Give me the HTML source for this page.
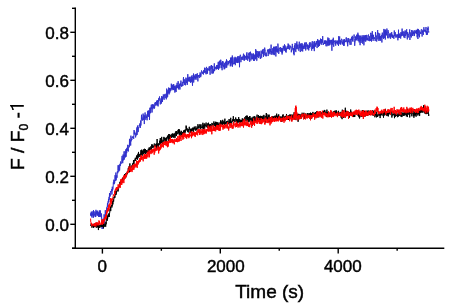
<!DOCTYPE html>
<html><head><meta charset="utf-8"><style>
html,body{margin:0;padding:0;background:#fff;}
svg{display:block;will-change:transform;}
text{font-family:"Liberation Sans",sans-serif;fill:#000;stroke:#000;stroke-width:0.45px;}
</style></head><body>
<svg width="449" height="308" viewBox="0 0 449 308">
<g fill="none" stroke-linejoin="round" stroke-width="1.0">
<polyline stroke="#3030cc" stroke-width="0.95" points="90.60,214.86 90.72,213.37 90.85,215.14 90.97,216.04 91.10,213.29 91.22,211.75 91.35,216.13 91.47,214.30 91.60,215.05 91.72,212.56 91.85,217.40 91.97,216.48 92.10,212.28 92.22,211.37 92.35,215.40 92.47,214.59 92.60,213.71 92.72,213.54 92.85,214.70 92.97,215.11 93.10,215.12 93.22,217.94 93.35,217.60 93.47,210.17 93.60,216.10 93.72,216.93 93.85,211.11 93.97,212.87 94.10,213.12 94.22,215.35 94.35,214.58 94.47,214.33 94.60,214.08 94.72,215.46 94.85,214.25 94.97,211.77 95.10,211.75 95.22,212.34 95.35,217.05 95.47,214.32 95.60,215.00 95.72,216.88 95.85,214.37 95.97,209.82 96.10,214.21 96.22,212.47 96.35,212.57 96.47,212.24 96.60,213.31 96.72,211.27 96.85,215.46 96.97,214.85 97.10,214.47 97.22,214.37 97.35,211.65 97.47,215.36 97.60,211.86 97.72,210.64 97.85,213.15 97.97,214.08 98.10,214.20 98.22,215.94 98.35,213.16 98.47,216.26 98.60,216.93 98.72,214.62 98.85,211.98 98.97,216.52 99.10,214.00 99.22,214.27 99.35,211.22 99.47,210.48 99.60,217.01 99.72,215.54 99.85,212.59 99.97,213.26 100.10,211.87 100.22,214.22 100.35,210.41 100.47,215.97 100.60,215.31 100.72,216.77 100.85,214.91 100.97,216.07 101.10,215.83 101.22,216.09 101.35,214.10 101.47,218.40 101.50,213.47 101.70,218.11 101.90,221.60 102.10,228.99 102.30,220.99 102.50,224.12 102.70,224.28 102.90,218.80 103.10,228.72 103.30,224.83 103.50,222.51 103.70,220.67 103.90,222.60 104.10,214.31 104.30,223.57 104.50,218.07 104.70,220.86 104.90,215.05 105.10,215.35 105.30,210.17 105.50,214.60 105.70,214.31 105.90,211.86 106.10,216.68 106.30,211.43 106.50,210.57 106.70,207.49 106.90,210.29 107.10,206.48 107.30,206.26 107.50,202.84 107.70,207.20 107.90,206.67 108.10,201.45 108.30,202.29 108.50,198.92 108.70,202.25 108.90,201.53 109.10,196.87 109.30,199.64 109.50,193.04 109.70,196.74 109.90,193.86 110.10,196.35 110.30,195.76 110.50,191.15 110.70,190.94 110.90,191.81 111.10,191.54 111.30,191.00 111.50,191.26 111.70,189.16 111.90,194.58 112.10,190.05 112.30,186.72 112.50,190.75 112.70,188.68 112.90,189.33 113.10,188.71 113.30,182.52 113.50,183.68 113.70,183.74 113.90,179.65 114.10,184.26 114.30,180.39 114.50,183.35 114.70,182.96 114.90,179.45 115.10,175.13 115.30,180.95 115.50,176.71 115.70,179.55 115.90,172.53 116.10,180.40 116.30,176.66 116.50,177.44 116.70,175.27 116.90,177.78 117.10,177.73 117.30,171.20 117.50,171.45 117.70,173.11 117.90,173.25 118.10,165.20 118.30,170.46 118.50,165.73 118.70,171.70 118.90,169.04 119.10,165.13 119.30,164.71 119.50,170.49 119.70,170.51 119.90,165.20 120.10,163.82 120.30,166.02 120.50,161.52 120.70,163.28 120.90,164.12 121.10,163.77 121.30,163.69 121.50,161.47 121.70,160.87 121.90,157.88 122.10,155.88 122.30,161.37 122.50,159.38 122.70,163.20 122.90,160.44 123.10,154.51 123.30,160.42 123.50,155.64 123.70,156.48 123.90,155.07 124.10,151.31 124.30,159.63 124.50,154.93 124.70,155.81 124.90,153.31 125.10,151.45 125.30,151.91 125.50,157.37 125.70,151.15 125.90,149.25 126.10,156.77 126.30,150.39 126.50,148.94 126.70,153.17 126.90,147.90 127.10,150.44 127.30,148.94 127.50,146.34 127.70,144.80 127.90,150.81 128.10,149.37 128.30,151.51 128.50,146.41 128.70,145.40 128.90,145.86 129.10,146.08 129.30,147.28 129.50,138.86 129.70,145.76 129.90,141.95 130.10,143.06 130.30,140.02 130.50,141.61 130.70,145.49 130.90,135.65 131.10,141.39 131.30,139.98 131.50,138.77 131.70,139.11 131.90,139.89 132.10,137.35 132.30,137.90 132.50,137.22 132.70,137.81 132.90,136.03 133.10,136.23 133.30,138.20 133.50,136.87 133.70,138.84 133.90,134.18 134.10,130.02 134.30,134.33 134.50,131.95 134.70,131.50 134.90,134.37 135.10,132.71 135.30,134.23 135.50,137.34 135.70,137.41 135.90,133.89 136.10,134.38 136.30,134.77 136.50,135.34 136.70,128.62 136.90,127.45 137.10,134.87 137.30,128.90 137.50,125.58 137.70,129.89 137.90,127.14 138.10,132.13 138.30,131.77 138.50,129.11 138.70,127.09 138.90,127.40 139.10,125.28 139.30,126.22 139.50,126.12 139.70,123.83 139.90,123.66 140.10,123.18 140.30,127.96 140.50,123.43 140.70,120.49 140.90,125.55 141.10,121.74 141.30,120.60 141.50,114.74 141.70,118.98 141.90,117.41 142.10,120.28 142.30,119.34 142.50,120.43 142.70,120.36 142.90,116.96 143.10,113.59 143.30,120.03 143.50,117.60 143.70,116.22 143.90,115.02 144.10,115.14 144.30,124.05 144.50,115.99 144.70,118.14 144.90,114.77 145.10,112.48 145.30,118.51 145.50,119.09 145.70,119.69 145.90,115.73 146.10,114.56 146.30,117.93 146.50,116.07 146.70,118.06 146.90,117.03 147.10,120.29 147.30,114.74 147.50,115.53 147.70,110.82 147.90,116.79 148.10,112.81 148.30,116.71 148.50,110.77 148.70,114.34 148.90,110.73 149.10,110.23 149.30,111.00 149.50,119.95 149.70,111.57 149.90,107.74 150.10,113.36 150.30,110.91 150.50,107.89 150.70,112.91 150.90,106.75 151.10,106.62 151.30,104.72 151.50,108.52 151.70,106.85 151.90,109.06 152.10,112.48 152.30,104.18 152.50,106.68 152.70,107.00 152.90,109.21 153.10,106.14 153.30,104.68 153.50,108.07 153.70,104.63 153.90,105.56 154.10,107.39 154.30,105.67 154.50,108.59 154.70,107.53 154.90,102.66 155.10,105.44 155.30,104.73 155.50,102.11 155.70,103.83 155.90,105.48 156.10,104.85 156.30,105.20 156.50,101.26 156.70,102.30 156.90,104.49 157.10,100.05 157.30,100.74 157.50,105.43 157.70,100.36 157.90,101.19 158.10,106.40 158.30,100.90 158.50,101.71 158.70,98.27 158.90,100.75 159.10,100.04 159.30,98.07 159.50,96.48 159.70,99.78 159.90,99.70 160.10,101.57 160.30,104.39 160.50,101.17 160.70,101.79 160.90,98.47 161.10,99.56 161.30,101.88 161.50,103.53 161.70,96.09 161.90,99.64 162.10,101.40 162.30,97.74 162.50,101.92 162.70,96.66 162.90,97.55 163.10,98.64 163.30,94.43 163.50,95.78 163.70,97.24 163.90,96.74 164.10,99.82 164.30,95.54 164.50,96.03 164.70,94.18 164.90,94.27 165.10,97.85 165.30,98.15 165.50,96.29 165.70,96.30 165.90,93.77 166.10,95.46 166.30,99.35 166.50,98.79 166.70,88.60 166.90,95.34 167.10,97.51 167.30,91.40 167.50,95.40 167.70,96.60 167.90,89.80 168.10,92.95 168.30,93.24 168.50,91.80 168.70,87.53 168.90,92.78 169.10,94.40 169.30,89.07 169.50,88.13 169.70,93.11 169.90,88.39 170.10,90.20 170.30,91.34 170.50,88.40 170.70,90.46 170.90,90.71 171.10,88.76 171.30,83.70 171.50,86.76 171.70,89.45 171.90,84.95 172.10,84.66 172.30,88.76 172.50,89.12 172.70,85.27 172.90,90.18 173.10,88.92 173.30,84.72 173.50,89.91 173.70,84.07 173.90,87.72 174.10,90.01 174.30,88.53 174.50,86.08 174.70,86.16 174.90,92.57 175.10,85.66 175.30,90.71 175.50,87.63 175.70,86.91 175.90,87.07 176.10,92.03 176.30,84.86 176.50,88.06 176.70,87.14 176.90,88.33 177.10,82.81 177.30,87.54 177.50,87.19 177.70,85.52 177.90,87.91 178.10,81.16 178.30,81.98 178.50,84.40 178.70,89.44 178.90,85.22 179.10,85.13 179.30,88.14 179.50,85.53 179.70,83.68 179.90,89.56 180.10,86.48 180.30,85.58 180.50,83.30 180.70,85.58 180.90,80.55 181.10,84.03 181.30,84.81 181.50,86.44 181.70,86.86 181.90,84.56 182.10,86.12 182.30,81.88 182.50,82.59 182.70,83.68 182.90,85.89 183.10,84.40 183.30,79.07 183.50,77.11 183.70,82.88 183.90,79.16 184.10,79.35 184.30,83.12 184.50,82.05 184.70,84.95 184.90,79.56 185.10,79.51 185.30,82.86 185.50,85.30 185.70,84.95 185.90,77.63 186.10,79.53 186.30,82.70 186.50,83.10 186.70,79.81 186.90,78.33 187.10,78.82 187.30,84.87 187.50,81.90 187.70,74.14 187.90,74.44 188.10,81.63 188.30,77.72 188.50,81.01 188.70,79.01 188.90,77.74 189.10,80.64 189.30,76.88 189.50,81.56 189.70,77.19 189.90,76.94 190.10,76.76 190.30,79.79 190.50,82.69 190.70,79.30 190.90,81.20 191.10,76.83 191.30,82.24 191.50,76.53 191.70,75.60 191.90,80.21 192.10,80.16 192.30,81.94 192.50,85.74 192.70,76.86 192.90,80.54 193.10,75.19 193.30,78.31 193.50,73.56 193.70,82.51 193.90,78.43 194.10,77.71 194.30,75.50 194.50,77.65 194.70,76.69 194.90,79.60 195.10,76.39 195.30,74.22 195.50,78.45 195.70,77.30 195.90,76.53 196.10,79.69 196.30,74.22 196.50,75.44 196.70,77.50 196.90,77.13 197.10,74.60 197.30,73.29 197.50,78.41 197.70,78.46 197.90,81.39 198.10,75.32 198.30,76.53 198.50,75.14 198.70,76.41 198.90,77.04 199.10,77.38 199.30,78.05 199.50,76.10 199.70,74.76 199.90,76.49 200.10,72.41 200.30,75.15 200.50,73.53 200.70,77.20 200.90,75.80 201.10,75.82 201.30,72.97 201.50,70.41 201.70,70.86 201.90,71.26 202.10,72.79 202.30,71.92 202.50,72.09 202.70,73.94 202.90,74.07 203.10,73.21 203.30,71.82 203.50,74.50 203.70,70.31 203.90,72.17 204.10,70.55 204.30,72.78 204.50,67.75 204.70,72.27 204.90,68.98 205.10,67.90 205.30,70.49 205.50,72.38 205.70,70.98 205.90,74.16 206.10,74.27 206.30,68.76 206.50,66.88 206.70,68.19 206.90,73.73 207.10,68.88 207.30,70.65 207.50,73.55 207.70,68.12 207.90,68.74 208.10,70.07 208.30,69.67 208.50,70.39 208.70,68.30 208.90,67.40 209.10,67.62 209.30,66.25 209.50,70.80 209.70,69.17 209.90,67.71 210.10,74.76 210.30,66.31 210.50,66.12 210.70,65.79 210.90,66.42 211.10,69.45 211.30,68.65 211.50,65.05 211.70,69.40 211.90,73.50 212.10,70.26 212.30,70.06 212.50,68.95 212.70,65.92 212.90,73.59 213.10,69.27 213.30,73.10 213.50,70.07 213.70,71.31 213.90,68.71 214.10,68.43 214.30,63.34 214.50,71.14 214.70,70.63 214.90,66.73 215.10,67.91 215.30,67.97 215.50,67.32 215.70,67.14 215.90,69.29 216.10,66.69 216.30,68.42 216.50,69.32 216.70,65.05 216.90,68.42 217.10,67.64 217.30,68.56 217.50,66.82 217.70,65.07 217.90,69.09 218.10,62.86 218.30,61.75 218.50,69.82 218.70,67.10 218.90,62.65 219.10,62.60 219.30,64.92 219.50,61.36 219.70,68.35 219.90,60.57 220.10,62.43 220.30,63.76 220.50,64.85 220.70,59.73 220.90,59.86 221.10,66.36 221.30,68.00 221.50,63.98 221.70,62.49 221.90,67.97 222.10,70.24 222.30,66.08 222.50,61.16 222.70,63.73 222.90,65.38 223.10,61.44 223.30,66.07 223.50,65.05 223.70,67.17 223.90,66.10 224.10,69.25 224.30,69.04 224.50,63.26 224.70,69.13 224.90,66.48 225.10,64.75 225.30,62.08 225.50,61.73 225.70,65.03 225.90,67.83 226.10,62.75 226.30,61.95 226.50,59.35 226.70,67.65 226.90,60.46 227.10,62.41 227.30,63.14 227.50,63.66 227.70,63.74 227.90,65.36 228.10,61.19 228.30,62.85 228.50,64.08 228.70,62.76 228.90,61.15 229.10,63.22 229.30,62.84 229.50,60.32 229.70,61.24 229.90,61.31 230.10,61.50 230.30,66.32 230.50,57.65 230.70,65.20 230.90,61.67 231.10,63.53 231.30,61.32 231.50,57.50 231.70,62.41 231.90,61.08 232.10,66.34 232.30,55.51 232.50,66.56 232.70,57.00 232.90,57.79 233.10,59.96 233.30,62.25 233.50,64.15 233.70,64.26 233.90,62.44 234.10,61.76 234.30,58.17 234.50,63.92 234.70,61.28 234.90,56.90 235.10,56.87 235.30,65.20 235.50,58.04 235.70,60.69 235.90,57.42 236.10,62.42 236.30,58.60 236.50,61.32 236.70,61.07 236.90,62.82 237.10,59.26 237.30,57.13 237.50,63.04 237.70,56.29 237.90,60.20 238.10,59.94 238.30,58.97 238.50,58.67 238.70,62.70 238.90,56.10 239.10,59.31 239.30,56.62 239.50,67.23 239.70,59.64 239.90,59.87 240.10,54.80 240.30,54.86 240.50,54.92 240.70,56.85 240.90,62.18 241.10,60.39 241.30,57.93 241.50,56.94 241.70,56.86 241.90,59.60 242.10,57.51 242.30,59.81 242.50,58.34 242.70,56.52 242.90,57.75 243.10,56.52 243.30,54.83 243.50,53.70 243.70,57.07 243.90,60.28 244.10,56.04 244.30,60.73 244.50,54.84 244.70,55.63 244.90,59.99 245.10,56.46 245.30,56.13 245.50,57.67 245.70,56.76 245.90,56.43 246.10,57.76 246.30,59.36 246.50,53.71 246.70,59.47 246.90,52.30 247.10,57.03 247.30,55.73 247.50,58.15 247.70,60.69 247.90,58.92 248.10,57.14 248.30,56.68 248.50,58.51 248.70,53.74 248.90,53.11 249.10,54.98 249.30,52.30 249.50,59.00 249.70,61.77 249.90,56.79 250.10,53.81 250.30,54.70 250.50,51.73 250.70,54.83 250.90,60.53 251.10,59.07 251.30,58.18 251.50,58.62 251.70,53.54 251.90,54.92 252.10,58.88 252.30,57.88 252.50,58.69 252.70,55.74 252.90,53.70 253.10,59.67 253.30,56.20 253.50,53.57 253.70,60.88 253.90,54.71 254.10,55.82 254.30,60.88 254.50,58.12 254.70,55.34 254.90,56.35 255.10,54.33 255.30,55.41 255.50,59.25 255.70,49.12 255.90,54.14 256.10,57.70 256.30,50.68 256.50,55.00 256.70,60.72 256.90,60.68 257.10,54.16 257.30,55.16 257.50,57.02 257.70,51.17 257.90,51.95 258.10,51.50 258.30,55.94 258.50,51.82 258.70,58.06 258.90,53.48 259.10,52.96 259.30,56.38 259.50,51.39 259.70,54.19 259.90,54.80 260.10,54.38 260.30,58.79 260.50,57.08 260.70,58.53 260.90,54.18 261.10,50.61 261.30,53.28 261.50,56.74 261.70,57.63 261.90,53.46 262.10,51.41 262.30,52.96 262.50,49.76 262.70,53.74 262.90,51.03 263.10,49.68 263.30,48.94 263.50,56.96 263.70,51.91 263.90,54.97 264.10,55.31 264.30,54.89 264.50,53.51 264.70,47.62 264.90,50.37 265.10,49.86 265.30,55.86 265.50,55.62 265.70,54.55 265.90,52.77 266.10,56.46 266.30,54.96 266.50,55.85 266.70,52.78 266.90,52.67 267.10,51.95 267.30,51.89 267.50,49.62 267.70,50.72 267.90,50.20 268.10,56.06 268.30,54.86 268.50,54.26 268.70,49.19 268.90,50.75 269.10,53.45 269.30,50.83 269.50,48.69 269.70,51.83 269.90,53.01 270.10,54.36 270.30,52.17 270.50,49.05 270.70,52.05 270.90,51.46 271.10,44.63 271.30,53.43 271.50,52.13 271.70,51.05 271.90,54.96 272.10,51.88 272.30,53.45 272.50,52.55 272.70,48.28 272.90,50.37 273.10,50.96 273.30,50.62 273.50,54.53 273.70,46.73 273.90,51.19 274.10,47.11 274.30,55.17 274.50,53.03 274.70,53.44 274.90,46.66 275.10,51.14 275.30,51.42 275.50,46.64 275.70,54.21 275.90,56.46 276.10,48.83 276.30,51.30 276.50,46.35 276.70,48.84 276.90,51.88 277.10,50.15 277.30,52.57 277.50,48.67 277.70,51.68 277.90,43.61 278.10,46.05 278.30,48.69 278.50,48.62 278.70,53.93 278.90,52.85 279.10,49.46 279.30,47.95 279.50,47.72 279.70,49.09 279.90,49.46 280.10,51.09 280.30,48.79 280.50,47.13 280.70,49.93 280.90,51.87 281.10,49.95 281.30,51.14 281.50,47.91 281.70,52.41 281.90,50.87 282.10,54.53 282.30,49.73 282.50,52.95 282.70,48.13 282.90,51.19 283.10,47.92 283.30,45.80 283.50,48.09 283.70,47.17 283.90,49.52 284.10,49.71 284.30,48.10 284.50,44.36 284.70,50.73 284.90,50.95 285.10,45.48 285.30,47.57 285.50,51.81 285.70,48.49 285.90,47.49 286.10,52.59 286.30,48.33 286.50,50.12 286.70,49.35 286.90,47.92 287.10,46.84 287.30,46.07 287.50,48.92 287.70,47.85 287.90,47.93 288.10,43.52 288.30,46.20 288.50,44.56 288.70,49.10 288.90,45.12 289.10,44.81 289.30,45.28 289.50,49.64 289.70,49.16 289.90,48.31 290.10,48.26 290.30,46.28 290.50,45.74 290.70,46.98 290.90,47.38 291.10,46.81 291.30,52.28 291.50,49.94 291.70,50.94 291.90,48.42 292.10,47.51 292.30,43.88 292.50,45.58 292.70,49.52 292.90,49.69 293.10,49.32 293.30,48.32 293.50,53.84 293.70,48.37 293.90,49.09 294.10,55.26 294.30,45.94 294.50,45.36 294.70,48.72 294.90,50.21 295.10,43.07 295.30,49.83 295.50,49.90 295.70,51.61 295.90,52.08 296.10,44.01 296.30,44.92 296.50,43.64 296.70,48.81 296.90,41.47 297.10,49.24 297.30,48.67 297.50,45.41 297.70,46.20 297.90,44.61 298.10,44.50 298.30,46.91 298.50,49.32 298.70,50.69 298.90,50.60 299.10,44.20 299.30,41.69 299.50,47.80 299.70,48.16 299.90,44.70 300.10,49.57 300.30,52.04 300.50,44.12 300.70,45.15 300.90,45.67 301.10,43.11 301.30,48.24 301.50,44.79 301.70,51.06 301.90,50.86 302.10,43.50 302.30,43.44 302.50,45.80 302.70,51.47 302.90,45.58 303.10,49.02 303.30,47.19 303.50,46.08 303.70,48.44 303.90,48.79 304.10,44.37 304.30,46.73 304.50,44.80 304.70,42.94 304.90,48.79 305.10,42.24 305.30,45.27 305.50,49.74 305.70,50.47 305.90,44.70 306.10,46.74 306.30,44.26 306.50,42.48 306.70,44.41 306.90,44.59 307.10,49.39 307.30,47.17 307.50,44.56 307.70,46.75 307.90,47.17 308.10,49.01 308.30,45.25 308.50,47.36 308.70,50.43 308.90,48.73 309.10,47.46 309.30,43.34 309.50,47.92 309.70,43.22 309.90,42.10 310.10,46.37 310.30,46.69 310.50,46.64 310.70,45.28 310.90,42.61 311.10,45.97 311.30,48.74 311.50,49.23 311.70,50.65 311.90,44.55 312.10,44.94 312.30,41.16 312.50,48.59 312.70,45.57 312.90,48.93 313.10,44.97 313.30,44.62 313.50,47.96 313.70,45.74 313.90,41.61 314.10,48.64 314.30,51.11 314.50,44.36 314.70,41.22 314.90,46.91 315.10,43.74 315.30,46.43 315.50,43.79 315.70,44.17 315.90,43.02 316.10,43.61 316.30,41.77 316.50,44.32 316.70,40.95 316.90,45.45 317.10,48.05 317.30,43.82 317.50,42.24 317.70,39.07 317.90,44.45 318.10,46.30 318.30,40.68 318.50,46.86 318.70,41.70 318.90,45.64 319.10,40.11 319.30,43.38 319.50,46.02 319.70,42.32 319.90,41.90 320.10,40.84 320.30,43.52 320.50,38.60 320.70,40.62 320.90,39.77 321.10,41.27 321.30,44.75 321.50,39.54 321.70,39.11 321.90,42.78 322.10,41.55 322.30,39.94 322.50,42.54 322.70,36.12 322.90,42.29 323.10,44.74 323.30,44.00 323.50,44.59 323.70,42.89 323.90,42.77 324.10,43.96 324.30,40.44 324.50,43.61 324.70,40.85 324.90,44.01 325.10,42.67 325.30,43.72 325.50,40.96 325.70,40.32 325.90,45.29 326.10,46.28 326.30,40.87 326.50,40.89 326.70,43.28 326.90,43.47 327.10,46.19 327.30,41.81 327.50,44.68 327.70,40.17 327.90,37.46 328.10,42.69 328.30,39.12 328.50,43.82 328.70,45.68 328.90,38.08 329.10,41.87 329.30,44.67 329.50,40.15 329.70,45.27 329.90,42.13 330.10,42.76 330.30,39.90 330.50,40.50 330.70,43.52 330.90,44.45 331.10,44.54 331.30,42.84 331.50,39.89 331.70,43.88 331.90,50.75 332.10,42.32 332.30,43.22 332.50,44.49 332.70,39.74 332.90,39.23 333.10,42.89 333.30,37.72 333.50,43.33 333.70,46.71 333.90,43.82 334.10,40.96 334.30,41.31 334.50,41.83 334.70,40.61 334.90,40.52 335.10,43.85 335.30,43.47 335.50,41.83 335.70,45.63 335.90,40.33 336.10,42.45 336.30,41.60 336.50,42.79 336.70,42.01 336.90,43.64 337.10,43.58 337.30,40.52 337.50,44.31 337.70,42.84 337.90,41.30 338.10,44.38 338.30,44.10 338.50,45.94 338.70,36.19 338.90,42.47 339.10,41.86 339.30,39.47 339.50,38.05 339.70,36.50 339.90,43.91 340.10,39.96 340.30,44.64 340.50,41.25 340.70,44.13 340.90,40.84 341.10,42.55 341.30,40.38 341.50,38.78 341.70,40.19 341.90,40.58 342.10,41.53 342.30,44.53 342.50,42.15 342.70,43.54 342.90,42.15 343.10,39.47 343.30,44.18 343.50,40.53 343.70,45.84 343.90,40.83 344.10,45.81 344.30,39.04 344.50,42.91 344.70,41.18 344.90,40.36 345.10,40.57 345.30,40.82 345.50,42.09 345.70,40.57 345.90,39.55 346.10,37.87 346.30,37.33 346.50,41.62 346.70,41.93 346.90,41.68 347.10,38.25 347.30,43.36 347.50,41.18 347.70,46.27 347.90,42.39 348.10,40.51 348.30,42.18 348.50,38.05 348.70,38.40 348.90,40.45 349.10,40.26 349.30,39.62 349.50,40.43 349.70,43.06 349.90,43.10 350.10,44.89 350.30,38.78 350.50,40.23 350.70,40.35 350.90,42.16 351.10,44.76 351.30,39.18 351.50,39.57 351.70,36.99 351.90,39.92 352.10,38.08 352.30,35.84 352.50,40.81 352.70,38.32 352.90,41.69 353.10,38.85 353.30,37.73 353.50,37.69 353.70,38.06 353.90,37.65 354.10,34.54 354.30,38.68 354.50,40.74 354.70,45.78 354.90,43.04 355.10,42.15 355.30,39.61 355.50,36.54 355.70,40.40 355.90,37.11 356.10,36.51 356.30,40.30 356.50,38.74 356.70,34.95 356.90,36.25 357.10,34.52 357.30,39.42 357.50,35.96 357.70,36.81 357.90,32.70 358.10,41.07 358.30,34.64 358.50,37.67 358.70,40.97 358.90,41.45 359.10,42.36 359.30,42.17 359.50,39.10 359.70,35.56 359.90,41.42 360.10,45.19 360.30,35.70 360.50,37.87 360.70,40.78 360.90,39.47 361.10,42.99 361.30,38.48 361.50,37.51 361.70,39.17 361.90,35.54 362.10,36.51 362.30,41.60 362.50,37.24 362.70,43.79 362.90,40.83 363.10,35.11 363.30,41.20 363.50,39.12 363.70,36.72 363.90,45.32 364.10,40.80 364.30,35.40 364.50,39.29 364.70,38.88 364.90,41.19 365.10,37.29 365.30,35.22 365.50,39.90 365.70,41.65 365.90,35.19 366.10,39.14 366.30,39.76 366.50,40.32 366.70,34.88 366.90,35.58 367.10,39.43 367.30,37.93 367.50,39.84 367.70,37.97 367.90,40.49 368.10,35.16 368.30,35.22 368.50,34.55 368.70,37.46 368.90,40.93 369.10,39.28 369.30,39.70 369.50,36.36 369.70,41.20 369.90,40.99 370.10,39.02 370.30,40.92 370.50,34.63 370.70,32.80 370.90,34.39 371.10,33.44 371.30,36.49 371.50,41.56 371.70,35.08 371.90,38.93 372.10,33.05 372.30,31.16 372.50,38.85 372.70,36.96 372.90,34.55 373.10,40.86 373.30,34.99 373.50,37.43 373.70,37.34 373.90,38.88 374.10,37.11 374.30,38.85 374.50,38.50 374.70,37.89 374.90,37.82 375.10,40.84 375.30,41.07 375.50,32.14 375.70,35.02 375.90,36.98 376.10,35.81 376.30,35.58 376.50,39.92 376.70,41.56 376.90,39.69 377.10,36.28 377.30,34.61 377.50,31.36 377.70,30.11 377.90,39.40 378.10,35.68 378.30,32.76 378.50,33.35 378.70,34.31 378.90,40.99 379.10,36.33 379.30,36.90 379.50,39.13 379.70,33.45 379.90,38.71 380.10,40.70 380.30,36.75 380.50,36.07 380.70,40.52 380.90,37.05 381.10,38.20 381.30,36.10 381.50,34.88 381.70,37.38 381.90,42.49 382.10,35.48 382.30,32.62 382.50,34.96 382.70,35.95 382.90,37.71 383.10,34.50 383.30,35.52 383.50,38.98 383.70,38.17 383.90,28.95 384.10,34.70 384.30,30.97 384.50,31.13 384.70,37.94 384.90,29.61 385.10,33.00 385.30,39.52 385.50,29.76 385.70,34.36 385.90,30.18 386.10,31.72 386.30,34.91 386.50,31.80 386.70,35.45 386.90,28.52 387.10,30.77 387.30,35.36 387.50,35.39 387.70,38.24 387.90,33.96 388.10,30.16 388.30,32.93 388.50,32.21 388.70,33.55 388.90,38.26 389.10,35.96 389.30,33.59 389.50,34.26 389.70,35.95 389.90,36.86 390.10,33.99 390.30,34.42 390.50,38.65 390.70,38.74 390.90,32.90 391.10,35.18 391.30,34.48 391.50,36.57 391.70,32.14 391.90,35.03 392.10,34.64 392.30,37.73 392.50,34.87 392.70,37.51 392.90,35.74 393.10,37.81 393.30,36.03 393.50,35.58 393.70,37.66 393.90,38.84 394.10,34.98 394.30,30.51 394.50,36.10 394.70,36.20 394.90,34.12 395.10,32.00 395.30,32.36 395.50,35.14 395.70,36.71 395.90,37.57 396.10,34.56 396.30,37.26 396.50,36.90 396.70,36.32 396.90,36.18 397.10,34.39 397.30,36.15 397.50,35.55 397.70,35.07 397.90,40.31 398.10,34.15 398.30,37.97 398.50,29.69 398.70,37.86 398.90,36.46 399.10,33.53 399.30,34.01 399.50,37.79 399.70,35.90 399.90,34.23 400.10,33.79 400.30,34.42 400.50,35.61 400.70,38.59 400.90,32.17 401.10,34.35 401.30,36.30 401.50,35.94 401.70,32.58 401.90,35.46 402.10,28.60 402.30,35.63 402.50,34.07 402.70,31.82 402.90,33.61 403.10,31.31 403.30,35.68 403.50,34.33 403.70,34.02 403.90,37.46 404.10,31.72 404.30,33.30 404.50,35.93 404.70,36.81 404.90,38.09 405.10,30.41 405.30,35.34 405.50,34.67 405.70,36.14 405.90,33.64 406.10,30.76 406.30,34.35 406.50,30.37 406.70,29.25 406.90,33.24 407.10,36.05 407.30,39.42 407.50,32.25 407.70,33.17 407.90,34.00 408.10,35.08 408.30,37.50 408.50,35.75 408.70,33.92 408.90,34.48 409.10,33.59 409.30,32.22 409.50,33.36 409.70,29.39 409.90,39.97 410.10,35.56 410.30,35.21 410.50,36.14 410.70,32.43 410.90,33.55 411.10,34.77 411.30,37.45 411.50,35.80 411.70,30.02 411.90,32.12 412.10,32.26 412.30,32.32 412.50,35.88 412.70,32.33 412.90,30.41 413.10,32.33 413.30,34.15 413.50,31.66 413.70,32.74 413.90,32.08 414.10,36.06 414.30,33.42 414.50,35.60 414.70,30.71 414.90,30.12 415.10,32.77 415.30,31.57 415.50,32.40 415.70,31.61 415.90,33.43 416.10,33.03 416.30,29.82 416.50,33.77 416.70,30.62 416.90,34.55 417.10,37.30 417.30,36.43 417.50,32.39 417.70,28.83 417.90,39.00 418.10,34.98 418.30,31.73 418.50,29.22 418.70,33.39 418.90,35.53 419.10,34.24 419.30,35.07 419.50,37.29 419.70,30.40 419.90,31.56 420.10,32.85 420.30,33.88 420.50,32.24 420.70,33.03 420.90,33.12 421.10,33.90 421.30,29.20 421.50,29.38 421.70,29.77 421.90,29.57 422.10,36.54 422.30,30.67 422.50,32.85 422.70,30.59 422.90,30.98 423.10,32.53 423.30,34.91 423.50,32.85 423.70,29.68 423.90,27.18 424.10,31.82 424.30,29.62 424.50,30.18 424.70,31.09 424.90,30.22 425.10,30.80 425.30,30.19 425.50,31.13 425.70,32.41 425.90,26.99 426.10,27.22 426.30,34.86 426.50,34.55 426.70,31.14 426.90,35.02 427.10,34.20 427.30,32.80 427.50,34.41 427.70,28.01 427.90,30.10 428.10,26.63 428.30,30.02 428.50,30.43 428.70,32.49 428.90,31.69"/>
<polyline stroke="#000" points="90.60,225.80 90.77,224.80 90.93,225.43 91.10,224.34 91.27,223.33 91.43,225.11 91.60,225.02 91.77,226.82 91.93,227.65 92.10,225.81 92.27,226.36 92.43,225.03 92.60,224.69 92.77,225.46 92.93,225.47 93.10,226.16 93.27,225.94 93.43,227.80 93.60,225.54 93.77,223.82 93.93,225.94 94.10,225.01 94.27,226.05 94.43,227.15 94.60,225.04 94.77,225.73 94.93,226.45 95.10,224.70 95.27,226.11 95.43,226.52 95.60,226.86 95.77,227.22 95.93,226.59 96.10,226.41 96.27,224.29 96.43,222.77 96.60,224.84 96.77,227.73 96.93,226.18 97.10,223.36 97.27,225.58 97.43,226.54 97.60,223.92 97.77,226.86 97.93,224.84 98.10,227.50 98.27,226.33 98.43,230.05 98.60,224.78 98.77,226.75 98.93,224.66 99.10,227.83 99.27,226.61 99.43,227.55 99.60,226.55 99.77,224.98 99.93,225.56 100.10,224.79 100.27,224.95 100.43,226.29 100.60,227.31 100.77,226.97 100.93,226.47 101.10,225.10 101.27,226.31 101.43,224.61 101.50,225.95 101.70,227.05 101.90,225.18 102.10,224.66 102.30,224.72 102.50,226.61 102.70,224.96 102.90,222.98 103.10,224.81 103.30,223.66 103.50,228.28 103.70,225.62 103.90,222.97 104.10,226.08 104.30,226.79 104.50,225.97 104.70,224.35 104.90,224.90 105.10,224.70 105.30,225.53 105.50,223.86 105.70,226.74 105.90,221.74 106.10,224.32 106.30,221.09 106.50,217.50 106.70,217.97 106.90,216.31 107.10,215.98 107.30,220.69 107.50,216.82 107.70,218.55 107.90,215.33 108.10,216.36 108.30,213.94 108.50,216.82 108.70,214.25 108.90,213.33 109.10,213.27 109.30,216.88 109.50,213.18 109.70,213.28 109.90,208.95 110.10,209.40 110.30,210.49 110.50,206.02 110.70,211.14 110.90,208.61 111.10,207.47 111.30,206.53 111.50,205.83 111.70,204.72 111.90,207.50 112.10,205.62 112.30,206.00 112.50,202.62 112.70,200.99 112.90,204.40 113.10,199.21 113.30,199.73 113.50,201.54 113.70,201.66 113.90,196.83 114.10,198.17 114.30,198.18 114.50,197.38 114.70,195.56 114.90,197.79 115.10,195.11 115.30,195.10 115.50,190.98 115.70,194.29 115.90,190.48 116.10,194.70 116.30,193.80 116.50,191.48 116.70,192.17 116.90,191.56 117.10,190.60 117.30,191.01 117.50,189.65 117.70,188.53 117.90,187.49 118.10,191.45 118.30,188.34 118.50,187.50 118.70,188.37 118.90,185.94 119.10,185.51 119.30,186.95 119.50,187.17 119.70,186.11 119.90,181.84 120.10,184.19 120.30,183.66 120.50,184.13 120.70,181.36 120.90,180.71 121.10,182.02 121.30,180.30 121.50,179.65 121.70,181.10 121.90,182.56 122.10,180.83 122.30,182.27 122.50,178.19 122.70,180.86 122.90,179.23 123.10,177.34 123.30,177.82 123.50,176.71 123.70,177.52 123.90,176.25 124.10,179.50 124.30,176.31 124.50,174.10 124.70,175.98 124.90,176.71 125.10,175.16 125.30,176.95 125.50,173.50 125.70,173.30 125.90,177.41 126.10,174.22 126.30,174.87 126.50,174.47 126.70,174.30 126.90,173.03 127.10,172.28 127.30,174.22 127.50,171.08 127.70,171.83 127.90,172.50 128.10,170.25 128.30,167.90 128.50,171.10 128.70,171.88 128.90,170.10 129.10,166.37 129.30,170.18 129.50,172.24 129.70,165.74 129.90,163.41 130.10,167.52 130.30,167.83 130.50,168.83 130.70,168.65 130.90,167.12 131.10,167.67 131.30,167.05 131.50,166.42 131.70,165.84 131.90,165.41 132.10,166.65 132.30,165.85 132.50,164.10 132.70,166.50 132.90,163.00 133.10,163.59 133.30,163.94 133.50,160.06 133.70,162.44 133.90,164.31 134.10,163.93 134.30,160.08 134.50,160.40 134.70,159.65 134.90,160.80 135.10,160.77 135.30,157.75 135.50,160.78 135.70,160.03 135.90,159.46 136.10,158.11 136.30,158.67 136.50,155.58 136.70,158.85 136.90,158.55 137.10,157.75 137.30,155.62 137.50,159.71 137.70,159.24 137.90,153.76 138.10,157.57 138.30,156.90 138.50,151.93 138.70,157.14 138.90,157.17 139.10,157.08 139.30,155.89 139.50,154.25 139.70,154.28 139.90,155.86 140.10,156.81 140.30,153.69 140.50,153.86 140.70,155.38 140.90,150.22 141.10,154.62 141.30,153.29 141.50,149.72 141.70,154.81 141.90,151.76 142.10,154.67 142.30,155.61 142.50,150.94 142.70,150.94 142.90,152.93 143.10,149.79 143.30,154.03 143.50,152.96 143.70,154.23 143.90,149.16 144.10,152.57 144.30,152.88 144.50,148.76 144.70,153.31 144.90,149.18 145.10,151.77 145.30,149.02 145.50,152.58 145.70,154.08 145.90,151.11 146.10,150.98 146.30,153.13 146.50,150.00 146.70,150.82 146.90,152.12 147.10,151.37 147.30,153.33 147.50,152.62 147.70,153.83 147.90,150.36 148.10,152.28 148.30,148.79 148.50,151.71 148.70,153.09 148.90,154.00 149.10,147.53 149.30,149.26 149.50,150.64 149.70,147.65 149.90,149.95 150.10,149.73 150.30,147.70 150.50,147.39 150.70,146.49 150.90,148.42 151.10,149.89 151.30,147.97 151.50,152.13 151.70,144.45 151.90,145.85 152.10,147.89 152.30,144.53 152.50,147.00 152.70,147.69 152.90,146.44 153.10,145.60 153.30,147.54 153.50,146.52 153.70,146.96 153.90,146.56 154.10,144.33 154.30,143.50 154.50,144.71 154.70,145.63 154.90,144.93 155.10,146.89 155.30,145.63 155.50,146.86 155.70,145.34 155.90,143.84 156.10,146.58 156.30,145.95 156.50,143.57 156.70,144.31 156.90,149.94 157.10,139.00 157.30,146.93 157.50,144.98 157.70,144.68 157.90,144.19 158.10,143.70 158.30,148.67 158.50,143.55 158.70,143.63 158.90,145.40 159.10,144.45 159.30,143.24 159.50,142.81 159.70,140.71 159.90,144.74 160.10,140.69 160.30,138.00 160.50,143.91 160.70,143.14 160.90,142.17 161.10,140.41 161.30,143.25 161.50,139.01 161.70,136.87 161.90,140.90 162.10,141.91 162.30,141.47 162.50,143.98 162.70,141.69 162.90,139.74 163.10,139.76 163.30,141.67 163.50,139.95 163.70,139.81 163.90,136.89 164.10,139.49 164.30,137.72 164.50,140.45 164.70,140.27 164.90,141.29 165.10,143.19 165.30,139.64 165.50,142.49 165.70,137.83 165.90,140.06 166.10,141.39 166.30,143.08 166.50,137.49 166.70,138.86 166.90,139.43 167.10,138.83 167.30,137.13 167.50,135.73 167.70,136.27 167.90,138.14 168.10,135.68 168.30,141.08 168.50,139.91 168.70,134.10 168.90,136.45 169.10,139.53 169.30,139.59 169.50,138.83 169.70,134.11 169.90,135.88 170.10,138.71 170.30,136.48 170.50,135.37 170.70,137.00 170.90,137.77 171.10,136.18 171.30,136.30 171.50,137.73 171.70,134.74 171.90,134.08 172.10,137.06 172.30,133.51 172.50,136.54 172.70,134.33 172.90,137.16 173.10,133.52 173.30,137.70 173.50,136.19 173.70,135.14 173.90,134.14 174.10,135.41 174.30,134.01 174.50,133.48 174.70,137.52 174.90,136.59 175.10,137.63 175.30,132.87 175.50,131.65 175.70,132.13 175.90,135.96 176.10,136.03 176.30,131.02 176.50,135.95 176.70,133.08 176.90,131.47 177.10,133.25 177.30,134.18 177.50,132.56 177.70,132.44 177.90,131.07 178.10,129.89 178.30,131.65 178.50,129.31 178.70,133.26 178.90,130.60 179.10,134.49 179.30,129.29 179.50,134.72 179.70,130.65 179.90,130.71 180.10,132.93 180.30,134.11 180.50,132.52 180.70,132.04 180.90,136.38 181.10,133.80 181.30,130.80 181.50,132.57 181.70,136.16 181.90,133.75 182.10,134.68 182.30,136.87 182.50,132.14 182.70,133.86 182.90,131.95 183.10,133.08 183.30,133.99 183.50,130.52 183.70,133.08 183.90,132.95 184.10,134.45 184.30,131.32 184.50,129.93 184.70,132.76 184.90,129.83 185.10,131.99 185.30,132.49 185.50,129.68 185.70,130.85 185.90,129.00 186.10,125.56 186.30,127.88 186.50,126.57 186.70,130.21 186.90,128.12 187.10,129.67 187.30,129.74 187.50,131.66 187.70,129.06 187.90,128.91 188.10,130.52 188.30,132.50 188.50,129.44 188.70,130.19 188.90,129.23 189.10,128.32 189.30,126.81 189.50,129.45 189.70,129.10 189.90,129.13 190.10,133.14 190.30,128.93 190.50,130.10 190.70,128.83 190.90,131.55 191.10,128.85 191.30,132.68 191.50,128.80 191.70,130.63 191.90,131.02 192.10,128.70 192.30,130.63 192.50,129.17 192.70,127.66 192.90,127.79 193.10,129.59 193.30,132.20 193.50,128.09 193.70,129.95 193.90,127.52 194.10,129.43 194.30,126.61 194.50,127.54 194.70,128.93 194.90,127.56 195.10,128.38 195.30,130.64 195.50,128.52 195.70,127.36 195.90,126.33 196.10,127.48 196.30,130.39 196.50,128.03 196.70,127.77 196.90,129.20 197.10,129.27 197.30,129.44 197.50,126.85 197.70,125.72 197.90,124.26 198.10,125.93 198.30,126.40 198.50,128.31 198.70,127.50 198.90,125.84 199.10,128.41 199.30,124.51 199.50,124.86 199.70,124.62 199.90,124.77 200.10,126.29 200.30,125.25 200.50,125.43 200.70,129.26 200.90,124.26 201.10,125.09 201.30,126.57 201.50,127.85 201.70,127.97 201.90,126.64 202.10,126.47 202.30,126.64 202.50,128.44 202.70,125.40 202.90,122.76 203.10,127.26 203.30,124.73 203.50,126.63 203.70,129.13 203.90,126.69 204.10,129.71 204.30,123.44 204.50,126.63 204.70,126.81 204.90,127.51 205.10,124.62 205.30,126.16 205.50,126.02 205.70,125.91 205.90,123.23 206.10,122.55 206.30,126.59 206.50,126.20 206.70,125.62 206.90,126.67 207.10,127.44 207.30,123.38 207.50,126.86 207.70,128.11 207.90,127.24 208.10,126.44 208.30,126.62 208.50,122.72 208.70,124.39 208.90,127.09 209.10,127.87 209.30,125.98 209.50,124.29 209.70,124.82 209.90,126.57 210.10,128.64 210.30,126.40 210.50,124.03 210.70,126.09 210.90,125.76 211.10,129.32 211.30,126.10 211.50,125.12 211.70,124.96 211.90,122.92 212.10,123.26 212.30,124.32 212.50,123.73 212.70,125.53 212.90,125.35 213.10,126.82 213.30,127.80 213.50,125.27 213.70,124.54 213.90,121.44 214.10,125.36 214.30,125.74 214.50,123.05 214.70,123.61 214.90,122.95 215.10,126.02 215.30,125.14 215.50,126.15 215.70,121.73 215.90,128.65 216.10,122.30 216.30,121.98 216.50,124.15 216.70,122.81 216.90,127.09 217.10,123.08 217.30,122.59 217.50,125.58 217.70,126.02 217.90,122.30 218.10,122.94 218.30,123.14 218.50,123.48 218.70,126.83 218.90,126.00 219.10,125.64 219.30,125.99 219.50,123.72 219.70,125.25 219.90,123.54 220.10,122.31 220.30,126.65 220.50,120.48 220.70,123.64 220.90,122.58 221.10,120.61 221.30,122.89 221.50,123.67 221.70,124.34 221.90,121.99 222.10,124.79 222.30,123.94 222.50,124.80 222.70,119.83 222.90,122.44 223.10,122.11 223.30,124.22 223.50,121.83 223.70,122.22 223.90,121.06 224.10,120.95 224.30,121.41 224.50,124.82 224.70,121.16 224.90,118.67 225.10,123.56 225.30,122.19 225.50,123.96 225.70,123.88 225.90,122.30 226.10,122.04 226.30,121.72 226.50,122.60 226.70,121.12 226.90,122.76 227.10,124.78 227.30,120.97 227.50,120.92 227.70,120.78 227.90,122.91 228.10,122.89 228.30,124.19 228.50,122.81 228.70,121.69 228.90,122.22 229.10,119.02 229.30,122.36 229.50,121.65 229.70,125.09 229.90,123.85 230.10,119.92 230.30,120.42 230.50,123.06 230.70,117.80 230.90,119.91 231.10,122.25 231.30,122.76 231.50,121.94 231.70,123.69 231.90,121.09 232.10,121.70 232.30,121.12 232.50,119.42 232.70,121.36 232.90,120.17 233.10,121.18 233.30,116.20 233.50,120.95 233.70,119.63 233.90,119.35 234.10,120.40 234.30,119.34 234.50,121.73 234.70,122.21 234.90,121.47 235.10,121.56 235.30,120.45 235.50,119.84 235.70,117.49 235.90,119.17 236.10,122.06 236.30,121.34 236.50,119.18 236.70,120.36 236.90,122.18 237.10,120.11 237.30,123.44 237.50,119.28 237.70,122.18 237.90,122.11 238.10,121.26 238.30,121.57 238.50,122.06 238.70,117.05 238.90,122.00 239.10,123.22 239.30,121.88 239.50,123.19 239.70,118.99 239.90,120.96 240.10,121.63 240.30,120.52 240.50,123.08 240.70,121.77 240.90,119.93 241.10,122.27 241.30,122.23 241.50,119.94 241.70,121.80 241.90,121.31 242.10,121.23 242.30,118.30 242.50,122.79 242.70,121.60 242.90,120.33 243.10,120.93 243.30,120.83 243.50,119.59 243.70,118.99 243.90,120.11 244.10,118.75 244.30,118.82 244.50,117.47 244.70,118.93 244.90,121.10 245.10,119.54 245.30,119.10 245.50,118.32 245.70,118.00 245.90,115.96 246.10,121.53 246.30,117.16 246.50,115.70 246.70,119.06 246.90,118.76 247.10,117.36 247.30,115.64 247.50,115.83 247.70,121.17 247.90,118.18 248.10,117.28 248.30,121.87 248.50,117.61 248.70,117.01 248.90,119.73 249.10,119.49 249.30,121.71 249.50,116.16 249.70,119.55 249.90,116.03 250.10,119.96 250.30,117.99 250.50,118.36 250.70,117.89 250.90,120.75 251.10,122.17 251.30,119.10 251.50,118.79 251.70,118.35 251.90,120.20 252.10,117.41 252.30,125.64 252.50,118.85 252.70,122.36 252.90,119.56 253.10,116.83 253.30,116.51 253.50,118.58 253.70,118.06 253.90,118.92 254.10,117.30 254.30,123.60 254.50,123.21 254.70,116.10 254.90,120.21 255.10,121.47 255.30,118.67 255.50,118.83 255.70,121.15 255.90,120.11 256.10,116.89 256.30,121.23 256.50,118.08 256.70,122.25 256.90,117.11 257.10,114.65 257.30,118.92 257.50,120.88 257.70,119.57 257.90,118.88 258.10,116.90 258.30,120.19 258.50,115.15 258.70,119.91 258.90,116.26 259.10,117.34 259.30,116.01 259.50,116.72 259.70,121.05 259.90,116.20 260.10,118.65 260.30,116.83 260.50,120.13 260.70,115.78 260.90,118.24 261.10,119.87 261.30,122.33 261.50,116.08 261.70,116.65 261.90,118.17 262.10,120.99 262.30,116.49 262.50,119.89 262.70,117.31 262.90,116.63 263.10,115.68 263.30,118.87 263.50,120.46 263.70,118.51 263.90,114.86 264.10,117.69 264.30,120.45 264.50,120.24 264.70,119.09 264.90,121.20 265.10,116.10 265.30,116.06 265.50,122.54 265.70,119.30 265.90,117.60 266.10,116.97 266.30,113.06 266.50,119.22 266.70,113.85 266.90,113.99 267.10,117.47 267.30,120.32 267.50,116.87 267.70,118.33 267.90,116.92 268.10,118.53 268.30,114.86 268.50,121.87 268.70,116.38 268.90,119.29 269.10,114.64 269.30,121.74 269.50,119.38 269.70,122.34 269.90,117.51 270.10,120.65 270.30,118.44 270.50,118.66 270.70,121.09 270.90,116.98 271.10,119.91 271.30,122.03 271.50,121.57 271.70,120.19 271.90,118.73 272.10,116.23 272.30,120.52 272.50,116.53 272.70,119.88 272.90,116.97 273.10,117.52 273.30,117.42 273.50,118.48 273.70,116.52 273.90,117.62 274.10,116.31 274.30,118.23 274.50,117.77 274.70,118.04 274.90,115.72 275.10,117.88 275.30,117.38 275.50,118.39 275.70,117.44 275.90,115.59 276.10,118.72 276.30,116.19 276.50,117.96 276.70,113.67 276.90,118.40 277.10,118.71 277.30,115.83 277.50,118.60 277.70,116.86 277.90,120.09 278.10,118.78 278.30,115.29 278.50,117.21 278.70,114.35 278.90,117.00 279.10,118.59 279.30,119.12 279.50,117.42 279.70,117.19 279.90,117.94 280.10,116.56 280.30,118.28 280.50,119.76 280.70,118.11 280.90,119.37 281.10,116.41 281.30,116.98 281.50,118.55 281.70,121.68 281.90,119.88 282.10,121.20 282.30,118.20 282.50,120.41 282.70,115.07 282.90,119.11 283.10,114.32 283.30,120.36 283.50,118.94 283.70,120.13 283.90,118.67 284.10,116.94 284.30,116.41 284.50,118.02 284.70,120.31 284.90,118.63 285.10,116.40 285.30,116.26 285.50,115.93 285.70,116.75 285.90,116.89 286.10,116.11 286.30,116.93 286.50,113.98 286.70,119.65 286.90,117.19 287.10,119.48 287.30,117.18 287.50,116.25 287.70,116.73 287.90,116.95 288.10,115.32 288.30,115.82 288.50,119.98 288.70,118.21 288.90,115.55 289.10,117.43 289.30,114.95 289.50,119.01 289.70,114.59 289.90,118.03 290.10,116.41 290.30,116.38 290.50,114.79 290.70,115.73 290.90,114.76 291.10,114.52 291.30,116.88 291.50,120.57 291.70,115.34 291.90,117.76 292.10,115.90 292.30,114.63 292.50,118.39 292.70,117.13 292.90,118.09 293.10,116.28 293.30,116.39 293.50,114.70 293.70,115.77 293.90,119.38 294.10,112.26 294.30,117.18 294.50,119.22 294.70,118.08 294.90,118.30 295.10,116.29 295.30,118.90 295.50,119.01 295.70,116.91 295.90,120.08 296.10,116.21 296.30,112.64 296.50,117.16 296.70,117.01 296.90,115.68 297.10,116.39 297.30,116.23 297.50,113.85 297.70,119.35 297.90,117.05 298.10,121.81 298.30,116.80 298.50,117.41 298.70,113.81 298.90,118.24 299.10,114.26 299.30,117.04 299.50,117.58 299.70,117.14 299.90,114.11 300.10,114.04 300.30,116.76 300.50,117.45 300.70,117.87 300.90,115.16 301.10,115.00 301.30,118.44 301.50,114.14 301.70,116.62 301.90,114.71 302.10,112.74 302.30,113.34 302.50,116.23 302.70,115.85 302.90,116.39 303.10,114.90 303.30,114.66 303.50,116.12 303.70,115.30 303.90,112.76 304.10,114.90 304.30,118.79 304.50,114.37 304.70,116.78 304.90,115.67 305.10,117.18 305.30,114.31 305.50,113.61 305.70,116.75 305.90,114.69 306.10,115.90 306.30,115.40 306.50,117.71 306.70,116.41 306.90,116.18 307.10,114.12 307.30,113.00 307.50,114.26 307.70,117.22 307.90,116.89 308.10,116.62 308.30,114.77 308.50,113.56 308.70,117.41 308.90,115.59 309.10,116.15 309.30,113.42 309.50,113.82 309.70,116.15 309.90,116.26 310.10,113.08 310.30,115.35 310.50,112.67 310.70,116.92 310.90,115.87 311.10,118.73 311.30,117.30 311.50,113.35 311.70,114.85 311.90,113.60 312.10,114.68 312.30,115.80 312.50,114.35 312.70,114.45 312.90,111.91 313.10,115.35 313.30,114.28 313.50,115.43 313.70,116.18 313.90,114.38 314.10,115.59 314.30,113.28 314.50,116.10 314.70,114.40 314.90,113.43 315.10,114.14 315.30,112.07 315.50,113.53 315.70,114.01 315.90,114.91 316.10,114.79 316.30,113.88 316.50,114.78 316.70,111.34 316.90,115.40 317.10,116.28 317.30,116.72 317.50,117.24 317.70,114.93 317.90,115.12 318.10,114.36 318.30,114.28 318.50,115.29 318.70,117.39 318.90,111.85 319.10,113.90 319.30,115.19 319.50,112.81 319.70,115.26 319.90,111.98 320.10,113.75 320.30,111.35 320.50,114.75 320.70,112.81 320.90,115.33 321.10,113.61 321.30,112.38 321.50,113.30 321.70,114.22 321.90,113.91 322.10,113.41 322.30,113.17 322.50,113.72 322.70,115.12 322.90,112.50 323.10,114.21 323.30,110.96 323.50,114.88 323.70,113.80 323.90,112.45 324.10,112.42 324.30,109.93 324.50,113.08 324.70,112.45 324.90,110.38 325.10,112.08 325.30,113.91 325.50,113.21 325.70,113.41 325.90,111.96 326.10,114.50 326.30,112.99 326.50,114.59 326.70,117.08 326.90,109.62 327.10,112.36 327.30,113.33 327.50,112.09 327.70,115.32 327.90,112.95 328.10,116.66 328.30,115.14 328.50,114.66 328.70,113.99 328.90,115.65 329.10,115.14 329.30,117.00 329.50,115.23 329.70,116.41 329.90,115.38 330.10,115.30 330.30,111.97 330.50,114.77 330.70,115.45 330.90,112.64 331.10,112.20 331.30,114.06 331.50,115.05 331.70,111.41 331.90,114.90 332.10,115.96 332.30,113.71 332.50,114.48 332.70,114.79 332.90,112.69 333.10,114.89 333.30,114.51 333.50,111.42 333.70,114.48 333.90,115.04 334.10,111.49 334.30,114.88 334.50,112.79 334.70,110.80 334.90,111.27 335.10,111.46 335.30,113.93 335.50,112.05 335.70,112.14 335.90,110.53 336.10,112.78 336.30,110.48 336.50,111.47 336.70,113.75 336.90,113.84 337.10,111.71 337.30,112.59 337.50,113.66 337.70,112.74 337.90,114.97 338.10,115.28 338.30,112.81 338.50,110.85 338.70,112.86 338.90,115.64 339.10,115.34 339.30,115.54 339.50,115.52 339.70,112.70 339.90,114.20 340.10,115.73 340.30,114.34 340.50,115.50 340.70,112.18 340.90,111.84 341.10,117.64 341.30,115.44 341.50,115.16 341.70,116.68 341.90,118.02 342.10,119.17 342.30,109.68 342.50,114.65 342.70,115.78 342.90,110.47 343.10,110.69 343.30,113.57 343.50,117.29 343.70,115.61 343.90,117.82 344.10,114.51 344.30,115.98 344.50,116.85 344.70,115.00 344.90,114.21 345.10,114.52 345.30,107.72 345.50,114.99 345.70,111.10 345.90,113.01 346.10,115.77 346.30,115.22 346.50,110.89 346.70,115.42 346.90,115.79 347.10,114.75 347.30,115.57 347.50,115.29 347.70,111.12 347.90,113.74 348.10,113.50 348.30,111.76 348.50,113.79 348.70,112.33 348.90,113.58 349.10,112.11 349.30,115.50 349.50,117.57 349.70,112.51 349.90,113.59 350.10,113.61 350.30,114.31 350.50,113.21 350.70,109.51 350.90,114.19 351.10,113.35 351.30,111.68 351.50,113.29 351.70,112.77 351.90,114.15 352.10,113.18 352.30,113.29 352.50,114.02 352.70,114.30 352.90,113.91 353.10,116.02 353.30,114.36 353.50,112.55 353.70,117.06 353.90,114.16 354.10,116.76 354.30,112.01 354.50,114.94 354.70,117.02 354.90,116.19 355.10,114.05 355.30,112.82 355.50,112.78 355.70,113.53 355.90,112.10 356.10,112.51 356.30,112.06 356.50,112.06 356.70,114.31 356.90,110.71 357.10,114.22 357.30,115.20 357.50,112.30 357.70,112.40 357.90,114.13 358.10,114.06 358.30,115.91 358.50,110.66 358.70,114.18 358.90,116.89 359.10,114.56 359.30,117.65 359.50,118.44 359.70,113.55 359.90,117.28 360.10,115.53 360.30,114.58 360.50,114.11 360.70,114.22 360.90,112.96 361.10,114.28 361.30,116.25 361.50,116.79 361.70,113.79 361.90,115.38 362.10,115.23 362.30,110.04 362.50,115.52 362.70,111.93 362.90,112.02 363.10,115.53 363.30,116.97 363.50,111.88 363.70,112.23 363.90,112.06 364.10,112.78 364.30,113.01 364.50,112.18 364.70,110.71 364.90,116.83 365.10,112.73 365.30,112.25 365.50,115.24 365.70,112.95 365.90,115.57 366.10,115.03 366.30,115.39 366.50,112.88 366.70,114.75 366.90,110.79 367.10,111.11 367.30,113.70 367.50,113.01 367.70,115.98 367.90,113.05 368.10,110.33 368.30,113.62 368.50,112.95 368.70,113.80 368.90,111.32 369.10,111.99 369.30,113.47 369.50,114.66 369.70,114.04 369.90,114.63 370.10,110.64 370.30,112.86 370.50,113.64 370.70,115.00 370.90,113.76 371.10,112.88 371.30,113.13 371.50,113.23 371.70,110.87 371.90,113.56 372.10,115.02 372.30,114.91 372.50,110.34 372.70,113.75 372.90,111.10 373.10,115.84 373.30,114.89 373.50,115.24 373.70,112.80 373.90,110.55 374.10,112.18 374.30,113.44 374.50,111.39 374.70,112.29 374.90,117.26 375.10,111.73 375.30,115.10 375.50,110.75 375.70,114.57 375.90,115.62 376.10,114.92 376.30,116.29 376.50,117.36 376.70,111.65 376.90,114.61 377.10,115.08 377.30,114.91 377.50,117.00 377.70,114.63 377.90,116.28 378.10,116.18 378.30,114.35 378.50,115.05 378.70,112.66 378.90,114.59 379.10,114.35 379.30,113.73 379.50,113.15 379.70,115.73 379.90,113.78 380.10,118.08 380.30,116.34 380.50,115.35 380.70,112.94 380.90,115.61 381.10,114.22 381.30,114.11 381.50,111.96 381.70,114.95 381.90,114.32 382.10,113.00 382.30,112.58 382.50,113.25 382.70,111.32 382.90,112.66 383.10,116.08 383.30,112.38 383.50,117.66 383.70,111.05 383.90,115.37 384.10,115.32 384.30,115.42 384.50,114.32 384.70,110.36 384.90,115.28 385.10,115.10 385.30,113.22 385.50,108.87 385.70,115.01 385.90,111.38 386.10,112.53 386.30,115.23 386.50,115.38 386.70,113.67 386.90,111.98 387.10,116.06 387.30,115.09 387.50,112.77 387.70,111.35 387.90,113.64 388.10,110.74 388.30,116.42 388.50,114.22 388.70,112.73 388.90,114.18 389.10,110.51 389.30,113.47 389.50,112.51 389.70,110.88 389.90,112.66 390.10,114.50 390.30,111.35 390.50,113.63 390.70,111.41 390.90,114.45 391.10,110.96 391.30,115.47 391.50,115.42 391.70,115.76 391.90,117.56 392.10,114.64 392.30,114.58 392.50,115.49 392.70,113.58 392.90,111.02 393.10,112.26 393.30,112.29 393.50,114.86 393.70,113.37 393.90,113.82 394.10,115.57 394.30,114.90 394.50,118.18 394.70,114.48 394.90,112.88 395.10,116.87 395.30,113.84 395.50,114.45 395.70,116.37 395.90,114.89 396.10,115.81 396.30,113.42 396.50,113.98 396.70,115.64 396.90,113.48 397.10,113.70 397.30,114.30 397.50,117.20 397.70,116.93 397.90,114.63 398.10,114.28 398.30,112.84 398.50,116.43 398.70,114.74 398.90,115.64 399.10,111.36 399.30,115.31 399.50,114.10 399.70,115.17 399.90,115.66 400.10,113.82 400.30,113.16 400.50,115.09 400.70,111.71 400.90,116.52 401.10,114.63 401.30,112.08 401.50,116.48 401.70,115.97 401.90,117.07 402.10,116.17 402.30,115.30 402.50,114.36 402.70,112.53 402.90,115.79 403.10,115.47 403.30,113.59 403.50,115.35 403.70,112.58 403.90,115.99 404.10,114.24 404.30,114.28 404.50,112.39 404.70,115.28 404.90,113.73 405.10,112.27 405.30,113.88 405.50,112.68 405.70,114.83 405.90,110.10 406.10,110.67 406.30,116.30 406.50,111.68 406.70,113.40 406.90,111.72 407.10,112.77 407.30,117.06 407.50,108.73 407.70,113.24 407.90,112.33 408.10,112.27 408.30,110.77 408.50,110.47 408.70,114.64 408.90,113.10 409.10,110.03 409.30,112.21 409.50,109.81 409.70,117.42 409.90,112.95 410.10,109.04 410.30,114.00 410.50,113.49 410.70,112.96 410.90,112.77 411.10,111.49 411.30,112.19 411.50,108.94 411.70,115.00 411.90,116.32 412.10,113.67 412.30,113.94 412.50,110.43 412.70,112.19 412.90,110.46 413.10,110.72 413.30,114.11 413.50,115.75 413.70,113.11 413.90,117.73 414.10,114.76 414.30,109.20 414.50,112.53 414.70,115.60 414.90,113.49 415.10,115.03 415.30,110.06 415.50,115.35 415.70,110.83 415.90,113.52 416.10,116.67 416.30,112.90 416.50,112.29 416.70,114.02 416.90,111.09 417.10,110.82 417.30,114.26 417.50,109.75 417.70,110.15 417.90,115.54 418.10,110.05 418.30,113.07 418.50,114.23 418.70,112.08 418.90,110.22 419.10,113.58 419.30,110.36 419.50,115.83 419.70,115.96 419.90,110.04 420.10,112.90 420.30,110.51 420.50,112.41 420.70,111.19 420.90,109.81 421.10,112.43 421.30,108.44 421.50,111.90 421.70,110.97 421.90,109.75 422.10,112.71 422.30,111.08 422.50,110.30 422.70,110.57 422.90,110.41 423.10,112.46 423.30,110.22 423.50,105.50 423.70,105.12 423.90,108.86 424.10,108.53 424.30,110.37 424.50,108.49 424.70,109.58 424.90,113.53 425.10,108.85 425.30,112.94 425.50,111.33 425.70,114.05 425.90,113.47 426.10,112.11 426.30,114.11 426.50,112.70 426.70,110.40 426.90,113.44 427.10,113.56 427.30,112.54 427.50,113.29 427.70,112.10 427.90,113.53 428.10,112.48 428.30,110.21 428.50,112.53 428.70,115.89 428.90,114.50"/>
<polyline stroke="#ff0000" points="90.60,218.50 90.77,222.30 90.93,222.51 91.10,223.47 91.27,224.43 91.43,222.84 91.60,224.54 91.77,226.03 91.93,226.36 92.10,223.66 92.27,225.07 92.43,224.56 92.60,224.87 92.77,225.01 92.93,224.68 93.10,225.15 93.27,224.40 93.43,223.88 93.60,224.62 93.77,224.99 93.93,225.99 94.10,224.92 94.27,225.43 94.43,226.33 94.60,223.26 94.77,224.12 94.93,225.14 95.10,224.43 95.27,223.03 95.43,225.58 95.60,224.14 95.77,222.86 95.93,226.56 96.10,222.36 96.27,223.95 96.43,223.04 96.60,224.01 96.77,224.57 96.93,222.74 97.10,223.66 97.27,223.62 97.43,222.48 97.60,225.32 97.77,224.03 97.93,223.44 98.10,222.95 98.27,223.38 98.43,224.00 98.60,223.19 98.77,225.39 98.93,220.41 99.10,220.88 99.27,223.27 99.43,221.14 99.60,223.38 99.77,222.54 99.93,224.08 100.10,223.80 100.27,224.90 100.43,224.34 100.60,224.74 100.77,223.77 100.93,224.46 101.10,223.72 101.27,222.31 101.43,221.48 101.50,221.17 101.67,224.02 101.83,219.34 102.00,223.64 102.17,222.18 102.33,224.72 102.50,223.91 102.67,222.42 102.83,223.39 103.00,219.55 103.17,223.58 103.33,223.64 103.50,219.50 103.67,223.57 103.83,221.52 104.00,221.53 104.17,218.39 104.33,221.21 104.50,220.63 104.67,219.08 104.83,216.92 105.00,219.23 105.17,219.47 105.33,217.51 105.50,217.96 105.67,214.80 105.83,215.50 106.00,215.35 106.17,214.48 106.33,218.41 106.50,213.98 106.67,211.91 106.83,213.76 107.00,210.16 107.17,212.12 107.33,212.36 107.50,209.84 107.67,209.69 107.83,208.23 108.00,209.55 108.17,207.76 108.33,211.29 108.50,209.03 108.67,207.12 108.83,204.68 109.00,209.90 109.17,208.22 109.33,206.39 109.50,205.47 109.67,204.99 109.83,203.49 110.00,206.95 110.17,203.78 110.33,200.67 110.50,201.58 110.67,198.04 110.83,203.03 111.00,202.84 111.17,204.15 111.33,204.34 111.50,199.23 111.67,200.89 111.83,201.43 112.00,200.71 112.17,198.17 112.33,199.93 112.50,199.01 112.67,200.03 112.83,197.31 113.00,196.54 113.17,195.66 113.33,195.46 113.50,194.39 113.67,194.67 113.83,195.64 114.00,195.15 114.17,196.16 114.33,195.39 114.50,194.22 114.67,190.89 114.83,193.35 115.00,193.96 115.17,189.51 115.33,189.47 115.50,189.39 115.67,188.91 115.83,189.83 116.00,188.46 116.17,190.35 116.33,187.43 116.50,188.96 116.67,188.10 116.83,187.10 117.00,190.19 117.17,188.33 117.33,188.99 117.50,187.36 117.67,188.90 117.83,188.59 118.00,187.16 118.17,184.32 118.33,188.44 118.50,188.07 118.67,187.05 118.83,186.98 119.00,186.60 119.17,186.52 119.33,184.34 119.50,185.69 119.67,186.07 119.83,184.29 120.00,183.45 120.17,187.84 120.33,185.49 120.50,183.69 120.67,183.07 120.83,179.20 121.00,180.88 121.17,182.49 121.33,184.69 121.50,178.82 121.67,180.73 121.83,184.71 122.00,182.32 122.17,181.58 122.33,182.55 122.50,180.07 122.67,179.68 122.83,180.86 123.00,180.81 123.17,177.37 123.33,181.38 123.50,175.71 123.67,177.18 123.83,183.14 124.00,176.96 124.17,178.62 124.33,175.61 124.50,176.47 124.67,175.53 124.83,175.79 125.00,177.25 125.17,178.77 125.33,177.05 125.50,177.89 125.67,174.20 125.83,177.18 126.00,175.41 126.17,176.47 126.33,173.24 126.50,173.28 126.67,175.66 126.83,174.16 127.00,173.08 127.17,171.53 127.33,172.26 127.50,173.00 127.67,173.18 127.83,170.86 128.00,171.01 128.17,172.09 128.33,169.36 128.50,172.56 128.67,170.83 128.83,170.46 129.00,166.54 129.17,167.75 129.33,168.53 129.50,169.15 129.67,168.19 129.83,170.51 130.00,170.02 130.17,169.27 130.33,166.27 130.50,171.86 130.67,169.02 130.83,170.38 131.00,168.23 131.17,169.26 131.33,170.33 131.50,169.49 131.67,170.59 131.83,168.61 132.00,172.09 132.17,165.57 132.33,167.66 132.50,170.05 132.67,167.89 132.83,167.43 133.00,165.09 133.17,169.85 133.33,164.59 133.50,168.41 133.67,167.75 133.83,168.73 134.00,169.56 134.17,165.85 134.33,165.54 134.50,166.22 134.67,163.77 134.83,167.83 135.00,165.68 135.17,166.45 135.33,164.17 135.50,165.89 135.67,164.67 135.83,165.39 136.00,163.53 136.17,166.82 136.33,163.86 136.50,160.50 136.67,165.56 136.83,163.78 137.00,162.59 137.17,167.95 137.33,163.51 137.50,161.15 137.67,162.12 137.83,163.53 138.00,162.30 138.17,164.49 138.33,163.96 138.50,160.67 138.67,161.81 138.83,162.57 139.00,160.59 139.17,160.27 139.33,162.25 139.50,161.31 139.67,158.02 139.83,159.20 140.00,159.20 140.17,159.48 140.33,158.28 140.50,161.49 140.67,157.50 140.83,157.14 141.00,159.13 141.17,154.93 141.33,156.81 141.50,159.43 141.67,156.09 141.83,156.78 142.00,159.85 142.17,158.70 142.33,157.93 142.50,158.12 142.67,156.48 142.83,157.99 143.00,157.02 143.17,161.35 143.33,157.98 143.50,156.40 143.67,156.75 143.83,156.81 144.00,154.33 144.17,155.14 144.33,158.92 144.50,153.99 144.67,155.26 144.83,157.82 145.00,158.54 145.17,154.28 145.33,158.30 145.50,155.20 145.67,158.44 145.83,156.45 146.00,155.06 146.17,156.63 146.33,156.25 146.50,153.95 146.67,158.68 146.83,154.47 147.00,156.85 147.17,154.07 147.33,151.77 147.50,152.86 147.67,154.48 147.83,155.70 148.00,157.41 148.17,154.57 148.33,153.89 148.50,152.24 148.67,154.10 148.83,154.57 149.00,150.30 149.17,155.98 149.33,155.56 149.50,157.28 149.67,151.85 149.83,153.24 150.00,153.02 150.17,150.61 150.33,151.20 150.50,150.79 150.67,153.09 150.83,152.77 151.00,154.12 151.17,151.08 151.33,149.30 151.50,152.22 151.67,152.00 151.83,152.41 152.00,153.30 152.17,150.22 152.33,152.46 152.50,149.45 152.67,151.34 152.83,152.20 153.00,150.84 153.17,151.37 153.33,148.68 153.50,149.87 153.67,151.14 153.83,148.85 154.00,149.36 154.17,154.72 154.33,151.03 154.50,149.14 154.67,148.69 154.83,152.56 155.00,145.52 155.17,149.42 155.33,150.86 155.50,148.76 155.67,150.43 155.83,147.72 156.00,149.32 156.17,149.32 156.33,149.20 156.50,149.35 156.67,149.12 156.83,150.87 157.00,148.55 157.17,148.00 157.33,148.49 157.50,148.45 157.67,146.43 157.83,145.77 158.00,146.68 158.17,149.36 158.33,147.75 158.50,148.13 158.67,153.48 158.83,150.53 159.00,148.23 159.17,147.44 159.33,150.64 159.50,146.95 159.67,150.14 159.83,148.93 160.00,150.09 160.17,146.44 160.33,148.96 160.50,144.30 160.67,146.83 160.83,148.71 161.00,147.88 161.17,143.50 161.33,147.46 161.50,146.87 161.67,145.80 161.83,144.50 162.00,145.02 162.17,144.32 162.33,146.62 162.50,145.62 162.67,146.42 162.83,145.61 163.00,142.18 163.17,144.36 163.33,147.53 163.50,142.03 163.67,144.22 163.83,142.38 164.00,142.13 164.17,143.90 164.33,145.03 164.50,144.77 164.67,144.26 164.83,145.07 165.00,140.83 165.17,144.90 165.33,144.26 165.50,143.32 165.67,143.65 165.83,142.29 166.00,145.65 166.17,142.51 166.33,141.33 166.50,143.76 166.67,142.80 166.83,143.62 167.00,146.19 167.17,143.41 167.33,143.77 167.50,147.22 167.67,141.05 167.83,143.85 168.00,145.04 168.17,145.47 168.33,146.52 168.50,141.55 168.67,143.47 168.83,142.13 169.00,141.37 169.17,140.75 169.33,139.37 169.50,142.19 169.67,142.75 169.83,139.62 170.00,142.54 170.17,140.28 170.33,139.46 170.50,136.75 170.67,142.91 170.83,142.27 171.00,140.59 171.17,140.50 171.33,139.04 171.50,142.13 171.67,141.24 171.83,142.32 172.00,141.80 172.17,139.25 172.33,139.07 172.50,142.41 172.67,138.96 172.83,142.25 173.00,143.31 173.17,139.67 173.33,142.90 173.50,141.81 173.67,142.57 173.83,140.55 174.00,141.49 174.17,142.12 174.33,144.33 174.50,142.39 174.67,141.86 174.83,138.74 175.00,141.30 175.17,139.46 175.33,140.33 175.50,140.74 175.67,141.76 175.83,140.99 176.00,140.18 176.17,139.63 176.33,141.85 176.50,138.01 176.67,139.43 176.83,141.54 177.00,138.84 177.17,140.45 177.33,140.47 177.50,142.20 177.67,140.73 177.83,136.05 178.00,138.74 178.17,139.17 178.33,140.01 178.50,139.24 178.67,141.69 178.83,140.35 179.00,136.52 179.17,137.40 179.33,134.98 179.50,141.25 179.67,138.12 179.83,138.04 180.00,135.59 180.17,137.42 180.33,138.79 180.50,137.33 180.67,137.26 180.83,136.80 181.00,141.03 181.17,136.71 181.33,135.10 181.50,136.54 181.67,136.70 181.83,137.00 182.00,136.63 182.17,135.05 182.33,136.46 182.50,137.32 182.67,134.21 182.83,139.75 183.00,139.17 183.17,133.19 183.33,135.51 183.50,137.71 183.67,138.19 183.83,138.85 184.00,132.70 184.17,133.88 184.33,134.83 184.50,136.58 184.67,133.84 184.83,136.36 185.00,136.40 185.17,136.86 185.33,133.52 185.50,136.03 185.67,135.84 185.83,135.05 186.00,137.95 186.17,135.30 186.33,138.23 186.50,134.81 186.67,138.66 186.83,138.56 187.00,134.41 187.17,136.34 187.33,136.28 187.50,134.09 187.67,137.02 187.83,136.67 188.00,134.18 188.17,135.77 188.33,137.07 188.50,135.27 188.67,134.29 188.83,138.19 189.00,133.75 189.17,135.91 189.33,137.16 189.50,136.54 189.67,132.06 189.83,134.52 190.00,134.77 190.17,134.57 190.33,135.90 190.50,135.70 190.67,134.95 190.83,135.12 191.00,136.33 191.17,136.68 191.33,131.38 191.50,138.19 191.67,133.59 191.83,135.82 192.00,131.77 192.17,133.62 192.33,132.36 192.50,136.27 192.67,135.91 192.83,134.40 193.00,134.07 193.17,134.95 193.33,132.67 193.50,133.16 193.67,132.82 193.83,135.40 194.00,134.00 194.17,131.74 194.33,134.39 194.50,134.62 194.67,136.01 194.83,132.70 195.00,134.26 195.17,137.03 195.33,132.96 195.50,132.85 195.67,134.27 195.83,132.54 196.00,133.33 196.17,132.42 196.33,131.88 196.50,134.59 196.67,132.40 196.83,131.25 197.00,132.35 197.17,132.48 197.33,133.11 197.50,134.06 197.67,135.34 197.83,130.22 198.00,131.75 198.17,129.02 198.33,132.35 198.50,132.78 198.67,130.74 198.83,130.25 199.00,130.08 199.17,129.20 199.33,132.74 199.50,134.86 199.67,129.76 199.83,134.39 200.00,131.48 200.17,129.36 200.33,132.64 200.50,133.00 200.67,132.42 200.83,131.37 201.00,134.64 201.17,131.43 201.33,133.03 201.50,133.13 201.67,130.62 201.83,129.09 202.00,129.37 202.17,131.67 202.33,132.99 202.50,129.46 202.67,131.26 202.83,135.05 203.00,129.47 203.17,133.22 203.33,132.98 203.50,133.64 203.67,129.77 203.83,132.69 204.00,129.67 204.17,134.10 204.33,130.28 204.50,132.22 204.67,130.10 204.83,131.53 205.00,128.60 205.17,131.51 205.33,131.92 205.50,130.78 205.67,133.40 205.83,131.22 206.00,131.82 206.17,131.26 206.33,133.46 206.50,129.14 206.67,129.70 206.83,129.70 207.00,131.01 207.17,130.33 207.33,131.20 207.50,130.21 207.67,128.77 207.83,129.44 208.00,130.20 208.17,125.56 208.33,131.65 208.50,128.31 208.67,128.61 208.83,129.59 209.00,128.69 209.17,126.64 209.33,128.67 209.50,131.36 209.67,130.77 209.83,131.07 210.00,128.06 210.17,128.61 210.33,130.73 210.50,131.45 210.67,128.99 210.83,127.30 211.00,125.66 211.17,131.28 211.33,126.32 211.50,129.58 211.67,130.34 211.83,134.31 212.00,129.13 212.17,128.60 212.33,129.56 212.50,129.62 212.67,131.01 212.83,129.88 213.00,127.40 213.17,125.09 213.33,129.13 213.50,127.44 213.67,130.93 213.83,126.27 214.00,128.79 214.17,127.15 214.33,126.85 214.50,131.12 214.67,128.53 214.83,127.88 215.00,129.41 215.17,126.78 215.33,127.46 215.50,126.98 215.67,131.42 215.83,128.60 216.00,129.11 216.17,129.94 216.33,127.72 216.50,127.78 216.67,125.25 216.83,128.85 217.00,128.46 217.17,127.31 217.33,130.04 217.50,124.91 217.67,128.64 217.83,125.53 218.00,125.88 218.17,127.42 218.33,130.00 218.50,125.63 218.67,125.90 218.83,125.47 219.00,130.92 219.17,128.32 219.33,128.07 219.50,130.86 219.67,127.71 219.83,123.65 220.00,126.34 220.17,125.13 220.33,130.60 220.50,124.68 220.67,127.59 220.83,126.14 221.00,126.23 221.17,126.97 221.33,126.65 221.50,125.65 221.67,124.64 221.83,125.58 222.00,124.84 222.17,125.01 222.33,126.71 222.50,126.19 222.67,127.23 222.83,125.98 223.00,129.67 223.17,125.12 223.33,124.67 223.50,128.17 223.67,125.25 223.83,126.72 224.00,128.25 224.17,126.46 224.33,126.09 224.50,128.42 224.67,127.38 224.83,125.95 225.00,124.86 225.17,126.30 225.33,124.14 225.50,125.51 225.67,125.14 225.83,127.54 226.00,128.36 226.17,125.94 226.33,126.30 226.50,125.17 226.67,124.68 226.83,126.29 227.00,127.97 227.17,127.77 227.33,127.92 227.50,126.37 227.67,122.07 227.83,128.24 228.00,128.79 228.17,127.96 228.33,127.80 228.50,127.99 228.67,130.56 228.83,126.38 229.00,128.36 229.17,126.96 229.33,126.63 229.50,125.15 229.67,124.71 229.83,123.32 230.00,126.22 230.17,124.67 230.33,123.15 230.50,123.92 230.67,123.21 230.83,128.01 231.00,124.88 231.17,125.51 231.33,123.27 231.50,123.59 231.67,127.16 231.83,124.95 232.00,125.71 232.17,128.45 232.33,128.85 232.50,126.41 232.67,126.02 232.83,125.54 233.00,124.60 233.17,128.52 233.33,122.92 233.50,124.82 233.67,121.64 233.83,122.75 234.00,125.59 234.17,125.67 234.33,125.45 234.50,124.31 234.67,123.64 234.83,123.92 235.00,124.18 235.17,126.70 235.33,127.31 235.50,125.55 235.67,123.85 235.83,123.14 236.00,125.24 236.17,124.30 236.33,121.53 236.50,126.97 236.67,124.58 236.83,124.01 237.00,123.04 237.17,123.01 237.33,126.03 237.50,122.86 237.67,124.64 237.83,125.58 238.00,127.67 238.17,125.58 238.33,124.52 238.50,123.87 238.67,126.14 238.83,126.46 239.00,124.06 239.17,125.85 239.33,124.66 239.50,122.15 239.67,123.24 239.83,126.37 240.00,127.46 240.17,126.15 240.33,124.61 240.50,123.70 240.67,125.80 240.83,125.39 241.00,121.99 241.17,125.82 241.33,123.43 241.50,125.73 241.67,125.43 241.83,125.70 242.00,126.23 242.17,125.54 242.33,122.47 242.50,122.47 242.67,125.93 242.83,124.90 243.00,121.31 243.17,120.49 243.33,125.38 243.50,127.58 243.67,125.10 243.83,123.19 244.00,123.98 244.17,118.79 244.33,121.69 244.50,125.10 244.67,124.82 244.83,119.69 245.00,125.39 245.17,124.31 245.33,125.06 245.50,123.17 245.67,123.61 245.83,121.84 246.00,124.34 246.17,125.43 246.33,122.37 246.50,124.70 246.67,123.24 246.83,126.01 247.00,125.95 247.17,120.25 247.33,125.09 247.50,126.06 247.67,123.34 247.83,123.89 248.00,123.96 248.17,122.19 248.33,123.90 248.50,126.70 248.67,124.78 248.83,126.51 249.00,125.54 249.17,125.84 249.33,123.95 249.50,125.04 249.67,127.14 249.83,126.20 250.00,124.23 250.17,122.49 250.33,122.12 250.50,124.13 250.67,124.50 250.83,120.62 251.00,124.16 251.17,124.40 251.33,124.33 251.50,122.86 251.67,127.74 251.83,125.27 252.00,121.38 252.17,122.46 252.33,125.01 252.50,124.45 252.67,123.73 252.83,123.38 253.00,123.00 253.17,122.52 253.33,121.45 253.50,124.12 253.67,118.29 253.83,121.73 254.00,125.02 254.17,121.48 254.33,120.71 254.50,125.93 254.67,124.40 254.83,122.29 255.00,121.47 255.17,121.99 255.33,121.72 255.50,121.81 255.67,120.88 255.83,122.98 256.00,121.00 256.17,118.75 256.33,119.54 256.50,121.66 256.67,119.81 256.83,117.23 257.00,123.94 257.17,122.14 257.33,120.42 257.50,120.28 257.67,122.00 257.83,123.45 258.00,120.02 258.17,121.78 258.33,120.02 258.50,121.66 258.67,119.18 258.83,118.02 259.00,121.32 259.17,121.09 259.33,122.46 259.50,120.10 259.67,123.60 259.83,121.43 260.00,123.90 260.17,120.67 260.33,123.81 260.50,121.10 260.67,121.43 260.83,122.81 261.00,118.11 261.17,119.28 261.33,124.21 261.50,118.48 261.67,120.18 261.83,121.95 262.00,123.51 262.17,120.14 262.33,121.23 262.50,119.08 262.67,120.35 262.83,122.76 263.00,121.56 263.17,120.94 263.33,121.71 263.50,121.19 263.67,121.21 263.83,120.28 264.00,119.17 264.17,121.95 264.33,118.77 264.50,122.43 264.67,124.27 264.83,123.19 265.00,124.52 265.17,118.76 265.33,120.94 265.50,119.11 265.67,119.26 265.83,117.60 266.00,118.48 266.17,122.03 266.33,121.78 266.50,122.66 266.67,122.55 266.83,121.98 267.00,119.27 267.17,120.44 267.33,121.88 267.50,122.73 267.67,119.94 267.83,119.70 268.00,119.75 268.17,123.17 268.33,121.37 268.50,119.82 268.67,119.00 268.83,121.01 269.00,117.37 269.17,119.81 269.33,119.21 269.50,119.17 269.67,120.51 269.83,120.88 270.00,125.37 270.17,120.40 270.33,121.45 270.50,118.93 270.67,117.53 270.83,122.33 271.00,123.76 271.17,118.76 271.33,120.36 271.50,122.39 271.67,120.66 271.83,116.42 272.00,122.19 272.17,120.19 272.33,121.62 272.50,118.69 272.67,121.76 272.83,121.95 273.00,118.88 273.17,120.85 273.33,118.85 273.50,118.99 273.67,118.23 273.83,118.96 274.00,118.49 274.17,121.58 274.33,119.17 274.50,117.63 274.67,121.86 274.83,120.47 275.00,121.26 275.17,119.51 275.33,120.85 275.50,119.56 275.67,118.16 275.83,120.02 276.00,120.13 276.17,120.16 276.33,121.39 276.50,117.05 276.67,120.50 276.83,118.63 277.00,119.48 277.17,120.67 277.33,119.97 277.50,118.66 277.67,120.99 277.83,119.52 278.00,121.11 278.17,121.51 278.33,118.72 278.50,117.37 278.67,119.27 278.83,120.43 279.00,119.52 279.17,116.95 279.33,116.02 279.50,117.26 279.67,117.24 279.83,119.89 280.00,118.95 280.17,120.34 280.33,118.74 280.50,121.73 280.67,118.95 280.83,119.88 281.00,118.27 281.17,119.72 281.33,120.79 281.50,120.26 281.67,121.08 281.83,117.88 282.00,119.64 282.17,121.71 282.33,119.22 282.50,118.49 282.67,118.34 282.83,117.82 283.00,118.93 283.17,121.01 283.33,119.43 283.50,118.63 283.67,117.34 283.83,116.78 284.00,122.73 284.17,117.95 284.33,118.94 284.50,117.98 284.67,119.10 284.83,118.12 285.00,119.03 285.17,121.30 285.33,117.62 285.50,119.74 285.67,118.71 285.83,120.00 286.00,117.61 286.17,119.38 286.33,116.99 286.50,115.51 286.67,116.28 286.83,116.80 287.00,116.42 287.17,117.67 287.33,119.97 287.50,116.14 287.67,118.71 287.83,118.15 288.00,116.67 288.17,116.25 288.33,118.51 288.50,118.59 288.67,117.23 288.83,117.60 289.00,117.89 289.17,115.79 289.33,118.25 289.50,118.69 289.67,121.22 289.83,116.28 290.00,117.08 290.17,118.78 290.33,117.77 290.50,118.17 290.67,118.93 290.83,118.49 291.00,118.96 291.17,119.76 291.33,116.33 291.50,119.93 291.67,115.21 291.83,121.72 292.00,120.35 292.17,117.70 292.33,120.30 292.50,118.26 292.67,119.10 292.83,119.52 293.00,118.72 293.17,118.02 293.33,118.93 293.50,117.46 293.67,117.03 293.83,115.97 294.00,114.43 294.17,119.94 294.33,118.51 294.50,114.79 294.67,117.68 294.90,112.00 295.00,113.23 295.17,115.43 295.30,108.00 295.50,119.58 295.60,106.00 295.90,105.60 296.00,117.25 296.20,106.80 296.33,114.85 296.50,109.50 296.67,118.12 296.90,112.50 297.00,117.49 297.17,119.68 297.33,120.43 297.50,119.67 297.67,116.23 297.83,117.31 298.00,116.65 298.17,119.58 298.33,116.16 298.50,115.82 298.67,114.85 298.83,117.82 299.00,118.16 299.17,116.39 299.33,116.05 299.50,116.91 299.67,119.35 299.83,114.81 300.00,116.87 300.17,117.20 300.33,117.38 300.50,118.76 300.67,117.98 300.83,117.00 301.00,118.91 301.17,118.34 301.33,116.91 301.50,116.80 301.67,114.46 301.83,116.64 302.00,115.15 302.17,114.60 302.33,116.07 302.50,113.72 302.67,115.15 302.83,115.82 303.00,117.27 303.17,116.23 303.33,117.45 303.50,119.45 303.67,118.21 303.83,114.96 304.00,113.93 304.17,115.34 304.33,115.37 304.50,113.53 304.67,113.93 304.83,113.90 305.00,115.70 305.17,119.02 305.33,119.45 305.50,114.91 305.67,115.83 305.83,114.31 306.00,113.88 306.17,116.46 306.33,116.67 306.50,115.57 306.67,117.69 306.83,116.13 307.00,118.52 307.17,115.93 307.33,118.20 307.50,116.49 307.67,117.05 307.83,117.90 308.00,114.68 308.17,115.68 308.33,116.80 308.50,116.46 308.67,117.35 308.83,115.60 309.00,114.74 309.17,116.76 309.33,117.41 309.50,115.60 309.67,118.92 309.83,118.05 310.00,118.29 310.17,118.16 310.33,115.42 310.50,120.31 310.67,115.59 310.83,117.34 311.00,117.86 311.17,117.15 311.33,116.84 311.50,115.12 311.67,115.73 311.83,116.36 312.00,118.39 312.17,115.09 312.33,117.25 312.50,116.78 312.67,116.16 312.83,115.07 313.00,115.72 313.17,113.08 313.33,116.08 313.50,116.43 313.67,115.02 313.83,116.72 314.00,116.35 314.17,114.60 314.33,117.15 314.50,114.85 314.67,119.66 314.83,113.94 315.00,114.24 315.17,114.46 315.33,115.84 315.50,117.30 315.67,115.47 315.83,114.59 316.00,118.32 316.17,116.81 316.33,114.62 316.50,114.85 316.67,112.47 316.83,115.02 317.00,117.77 317.17,113.00 317.33,112.57 317.50,115.12 317.67,110.96 317.83,117.20 318.00,112.42 318.17,113.73 318.33,114.67 318.50,116.93 318.67,115.62 318.83,111.86 319.00,112.23 319.17,115.38 319.33,111.62 319.50,114.62 319.67,113.78 319.83,116.51 320.00,117.22 320.17,111.13 320.33,116.03 320.50,116.42 320.67,114.14 320.83,114.45 321.00,113.49 321.17,114.91 321.33,116.15 321.50,117.69 321.67,117.83 321.83,114.95 322.00,113.99 322.17,116.95 322.33,110.66 322.50,112.81 322.67,116.08 322.83,118.58 323.00,113.50 323.17,114.84 323.33,112.72 323.50,114.33 323.67,114.22 323.83,113.01 324.00,114.84 324.17,113.86 324.33,114.94 324.50,113.75 324.67,112.10 324.83,114.34 325.00,115.56 325.17,112.89 325.33,116.46 325.50,115.06 325.67,113.80 325.83,114.52 326.00,113.84 326.17,113.11 326.33,116.18 326.50,116.21 326.67,114.01 326.83,114.49 327.00,114.47 327.17,115.98 327.33,117.26 327.50,113.74 327.67,115.33 327.83,114.77 328.00,115.70 328.17,117.12 328.33,113.25 328.50,111.24 328.67,114.31 328.83,111.88 329.00,117.21 329.17,113.23 329.33,113.83 329.50,114.62 329.67,114.49 329.83,113.38 330.00,114.01 330.17,115.51 330.33,113.40 330.50,116.93 330.67,114.45 330.83,109.97 331.00,115.34 331.17,110.99 331.33,114.48 331.50,117.70 331.67,115.80 331.83,112.20 332.00,112.78 332.17,114.20 332.33,116.61 332.50,113.04 332.67,116.10 332.83,114.80 333.00,114.13 333.17,114.02 333.33,117.06 333.50,111.77 333.67,112.35 333.83,115.67 334.00,115.78 334.17,111.95 334.33,112.52 334.50,112.09 334.67,114.85 334.83,112.80 335.00,116.19 335.17,115.08 335.33,114.21 335.50,114.09 335.67,114.64 335.83,115.15 336.00,113.80 336.17,114.24 336.33,115.18 336.50,113.83 336.67,115.68 336.83,113.89 337.00,112.95 337.17,114.63 337.33,117.16 337.50,117.01 337.67,111.98 337.83,115.22 338.00,113.97 338.17,114.31 338.33,114.32 338.50,114.54 338.67,114.07 338.83,114.48 339.00,115.29 339.17,112.90 339.33,112.81 339.50,112.95 339.67,112.87 339.83,115.66 340.00,112.79 340.17,114.42 340.33,114.60 340.50,115.62 340.67,114.44 340.83,116.09 341.00,114.22 341.17,114.71 341.33,115.54 341.50,111.88 341.67,114.94 341.83,116.81 342.00,114.52 342.17,113.97 342.33,117.55 342.50,114.62 342.67,116.53 342.83,110.62 343.00,114.75 343.17,113.79 343.33,115.29 343.50,116.64 343.67,114.46 343.83,114.35 344.00,110.08 344.17,116.03 344.33,116.92 344.50,114.97 344.67,113.92 344.83,115.28 345.00,116.36 345.17,115.70 345.33,118.03 345.50,113.64 345.67,112.28 345.83,115.30 346.00,116.54 346.17,113.66 346.33,114.38 346.50,113.27 346.67,112.22 346.83,113.04 347.00,110.81 347.17,114.65 347.33,114.94 347.50,115.62 347.67,112.78 347.83,113.10 348.00,111.38 348.17,111.76 348.33,115.65 348.50,118.86 348.67,112.48 348.83,113.59 349.00,115.81 349.17,113.14 349.33,115.28 349.50,113.84 349.67,113.86 349.83,115.87 350.00,113.97 350.17,112.32 350.33,115.78 350.50,114.48 350.67,113.53 350.83,113.12 351.00,115.41 351.17,113.25 351.33,114.62 351.50,116.05 351.67,114.17 351.83,116.10 352.00,111.95 352.17,115.15 352.33,114.93 352.50,117.04 352.67,113.86 352.83,115.18 353.00,113.31 353.17,111.69 353.33,111.86 353.50,112.02 353.67,114.34 353.83,111.66 354.00,112.92 354.17,114.25 354.33,114.74 354.50,114.18 354.67,115.06 354.83,110.70 355.00,111.75 355.17,113.08 355.33,114.41 355.50,113.42 355.67,111.35 355.83,112.33 356.00,109.94 356.17,114.02 356.33,109.75 356.50,113.06 356.67,114.47 356.83,114.17 357.00,109.99 357.17,112.97 357.33,112.00 357.50,112.03 357.67,115.18 357.83,112.90 358.00,110.02 358.17,110.57 358.33,113.50 358.50,112.69 358.67,110.46 358.83,109.60 359.00,111.51 359.17,111.78 359.33,113.96 359.50,111.73 359.67,113.99 359.83,115.05 360.00,110.59 360.17,112.46 360.33,116.20 360.50,113.10 360.67,114.02 360.83,115.84 361.00,113.18 361.17,113.92 361.33,112.03 361.50,115.80 361.67,114.18 361.83,114.45 362.00,110.86 362.17,116.72 362.33,116.25 362.50,113.75 362.67,117.01 362.83,110.84 363.00,114.66 363.17,111.85 363.33,118.98 363.50,110.00 363.67,112.14 363.83,112.73 364.00,115.15 364.17,115.04 364.33,114.16 364.50,112.97 364.67,116.79 364.83,111.95 365.00,113.56 365.17,115.86 365.33,110.86 365.50,111.51 365.67,114.64 365.83,113.55 366.00,110.62 366.17,112.85 366.33,116.00 366.50,112.43 366.67,114.23 366.83,113.15 367.00,111.86 367.17,115.72 367.33,114.71 367.50,115.14 367.67,112.95 367.83,113.40 368.00,113.62 368.17,113.99 368.33,112.67 368.50,112.38 368.67,115.35 368.83,111.30 369.00,112.34 369.17,112.38 369.33,112.09 369.50,110.87 369.67,111.54 369.83,114.09 370.00,112.13 370.17,111.47 370.33,115.45 370.50,110.48 370.67,114.43 370.83,113.34 371.00,110.57 371.17,112.22 371.33,112.33 371.50,115.21 371.67,114.69 371.83,112.81 372.00,111.42 372.17,110.65 372.33,113.26 372.50,111.28 372.67,113.35 372.83,113.32 373.00,114.27 373.17,115.27 373.33,113.72 373.50,114.23 373.67,113.04 373.83,114.90 374.00,114.36 374.17,115.46 374.33,114.90 374.50,111.20 374.67,109.78 374.83,113.05 375.00,113.69 375.17,110.49 375.33,113.91 375.50,111.43 375.67,110.99 375.83,111.61 376.00,108.61 376.17,108.15 376.33,110.26 376.50,108.87 376.67,110.79 376.83,110.84 377.00,106.64 377.17,109.62 377.33,111.90 377.50,107.26 377.67,110.65 377.83,109.07 378.00,108.17 378.17,113.37 378.33,113.42 378.50,111.04 378.67,111.01 378.83,114.23 379.00,114.01 379.17,112.08 379.33,113.59 379.50,112.38 379.67,111.72 379.83,113.27 380.00,111.55 380.17,113.21 380.33,111.80 380.50,111.41 380.67,111.17 380.83,112.79 381.00,113.52 381.17,112.59 381.33,110.37 381.50,112.74 381.67,110.15 381.83,109.70 382.00,111.16 382.17,112.77 382.33,112.52 382.50,112.27 382.67,113.59 382.83,112.73 383.00,110.71 383.17,112.60 383.33,110.88 383.50,112.00 383.67,112.35 383.83,111.29 384.00,108.99 384.17,111.24 384.33,110.99 384.50,111.35 384.67,110.85 384.83,109.69 385.00,108.90 385.17,112.63 385.33,112.81 385.50,112.11 385.67,111.39 385.83,114.65 386.00,112.49 386.17,111.39 386.33,112.68 386.50,111.17 386.67,112.41 386.83,111.69 387.00,112.09 387.17,111.28 387.33,110.42 387.50,111.98 387.67,112.97 387.83,109.62 388.00,110.23 388.17,109.29 388.33,112.49 388.50,110.67 388.67,112.46 388.83,109.66 389.00,112.27 389.17,109.93 389.33,110.07 389.50,111.65 389.67,110.08 389.83,109.68 390.00,112.07 390.17,110.44 390.33,112.54 390.50,114.61 390.67,109.51 390.83,109.85 391.00,107.91 391.17,108.46 391.33,111.39 391.50,110.93 391.67,110.94 391.83,111.30 392.00,109.25 392.17,107.96 392.33,112.58 392.50,111.32 392.67,112.87 392.83,111.07 393.00,112.46 393.17,110.46 393.33,111.39 393.50,111.19 393.67,112.11 393.83,113.82 394.00,112.60 394.17,106.81 394.33,111.34 394.50,111.49 394.67,112.75 394.83,111.62 395.00,110.20 395.17,110.01 395.33,110.71 395.50,110.07 395.67,113.52 395.83,112.17 396.00,111.28 396.17,112.78 396.33,114.73 396.50,110.89 396.67,111.21 396.83,110.79 397.00,109.29 397.17,110.28 397.33,109.79 397.50,112.10 397.67,112.04 397.83,112.71 398.00,110.00 398.17,112.84 398.33,109.59 398.50,110.84 398.67,113.20 398.83,113.07 399.00,112.79 399.17,114.42 399.33,112.65 399.50,110.51 399.67,110.54 399.83,109.61 400.00,111.23 400.17,109.60 400.33,109.80 400.50,109.18 400.67,108.00 400.83,114.78 401.00,112.14 401.17,107.26 401.33,111.32 401.50,109.63 401.67,106.98 401.83,110.06 402.00,110.68 402.17,111.21 402.33,112.00 402.50,108.74 402.67,109.98 402.83,111.09 403.00,110.84 403.17,110.55 403.33,110.05 403.50,111.90 403.67,107.83 403.83,107.46 404.00,112.77 404.17,110.66 404.33,111.83 404.50,110.45 404.67,109.55 404.83,109.46 405.00,110.51 405.17,109.58 405.33,110.30 405.50,110.35 405.67,111.89 405.83,111.90 406.00,113.27 406.17,109.55 406.33,110.68 406.50,112.35 406.67,111.39 406.83,106.86 407.00,111.45 407.17,110.85 407.33,110.08 407.50,110.17 407.67,109.65 407.83,112.69 408.00,111.86 408.17,111.03 408.33,112.44 408.50,112.07 408.67,109.12 408.83,108.65 409.00,108.62 409.17,111.39 409.33,110.04 409.50,111.94 409.67,110.73 409.83,109.46 410.00,107.66 410.17,109.21 410.33,113.19 410.50,108.38 410.67,108.10 410.83,109.03 411.00,111.54 411.17,109.22 411.33,107.45 411.50,108.22 411.67,108.95 411.83,109.27 412.00,110.76 412.17,113.14 412.33,111.30 412.50,110.13 412.67,109.08 412.83,107.85 413.00,110.14 413.17,111.34 413.33,110.68 413.50,109.22 413.67,110.62 413.83,109.29 414.00,109.51 414.17,109.51 414.33,110.13 414.50,109.99 414.67,111.87 414.83,110.34 415.00,110.27 415.17,112.19 415.33,111.68 415.50,112.45 415.67,109.43 415.83,112.81 416.00,110.70 416.17,109.02 416.33,110.47 416.50,108.73 416.67,109.10 416.83,110.04 417.00,112.24 417.17,108.52 417.33,111.13 417.50,110.23 417.67,113.14 417.83,110.91 418.00,111.53 418.17,112.78 418.33,108.70 418.50,109.85 418.67,107.94 418.83,108.91 419.00,110.70 419.17,109.84 419.33,110.68 419.50,109.32 419.67,108.79 419.83,109.61 420.00,108.37 420.17,107.95 420.33,107.15 420.50,109.47 420.67,110.35 420.83,107.67 421.00,108.87 421.17,105.92 421.33,107.68 421.50,109.68 421.67,107.48 421.83,110.25 422.00,108.88 422.17,110.09 422.33,108.60 422.50,107.18 422.67,109.39 422.83,110.55 423.00,108.53 423.17,109.96 423.33,108.19 423.50,108.75 423.67,111.29 423.83,109.25 424.00,107.79 424.17,110.17 424.33,109.38 424.50,108.47 424.67,110.43 424.83,104.70 425.00,110.27 425.17,112.39 425.33,109.84 425.50,106.34 425.67,111.53 425.83,113.37 426.00,110.26 426.17,107.64 426.33,108.26 426.50,109.12 426.67,109.64 426.83,111.22 427.00,110.26 427.17,105.78 427.33,108.93 427.50,109.22 427.67,112.46 427.83,108.61 428.00,107.35 428.17,109.12 428.33,110.07 428.50,106.73 428.67,111.41 428.83,109.46"/>
</g>
<g stroke="#000" stroke-width="1.4" fill="none">
<line x1="75.3" y1="7.6" x2="75.3" y2="248.9"/>
<line x1="72.0" y1="248.3" x2="444.3" y2="248.3"/>
<line x1="72.0" y1="248.3" x2="75.3" y2="248.3"/><line x1="70.3" y1="224.3" x2="75.3" y2="224.3"/><line x1="72.0" y1="200.3" x2="75.3" y2="200.3"/><line x1="70.3" y1="176.3" x2="75.3" y2="176.3"/><line x1="72.0" y1="152.3" x2="75.3" y2="152.3"/><line x1="70.3" y1="128.3" x2="75.3" y2="128.3"/><line x1="72.0" y1="104.3" x2="75.3" y2="104.3"/><line x1="70.3" y1="80.3" x2="75.3" y2="80.3"/><line x1="72.0" y1="56.3" x2="75.3" y2="56.3"/><line x1="70.3" y1="32.3" x2="75.3" y2="32.3"/><line x1="72.0" y1="8.3" x2="75.3" y2="8.3"/>
<line x1="102.40" y1="248.3" x2="102.40" y2="253.6"/><line x1="161.35" y1="248.3" x2="161.35" y2="250.8"/><line x1="220.30" y1="248.3" x2="220.30" y2="253.6"/><line x1="279.25" y1="248.3" x2="279.25" y2="250.8"/><line x1="338.20" y1="248.3" x2="338.20" y2="253.6"/><line x1="397.15" y1="248.3" x2="397.15" y2="250.8"/>
</g>
<g font-size="17">
<text x="68.9" y="230.9" text-anchor="end">0.0</text><text x="68.9" y="182.9" text-anchor="end">0.2</text><text x="68.9" y="134.9" text-anchor="end">0.4</text><text x="68.9" y="86.9" text-anchor="end">0.6</text><text x="68.9" y="38.9" text-anchor="end">0.8</text>
<text x="102.2" y="271.8" text-anchor="middle">0</text><text x="225.8" y="271.8" text-anchor="middle">2000</text><text x="342.8" y="271.8" text-anchor="middle">4000</text>
</g>
<text x="235.2" y="298.3" font-size="19">Time (s)</text>
<g transform="translate(23.8,168.4) rotate(-90)">
<text x="-1.6" y="0" font-size="19.2">F / F<tspan font-size="12" dy="4.5">0</tspan><tspan dy="-4.5"> -</tspan></text>
<path transform="translate(56.26,0) scale(0.009375,-0.009375)" d="M583,0 L763,0 L763,1466 L646,1466 C560,1340 420,1250 223,1230 L223,1055 C360,1080 480,1130 583,1200 Z"/>
</g>
</svg>
</body></html>
